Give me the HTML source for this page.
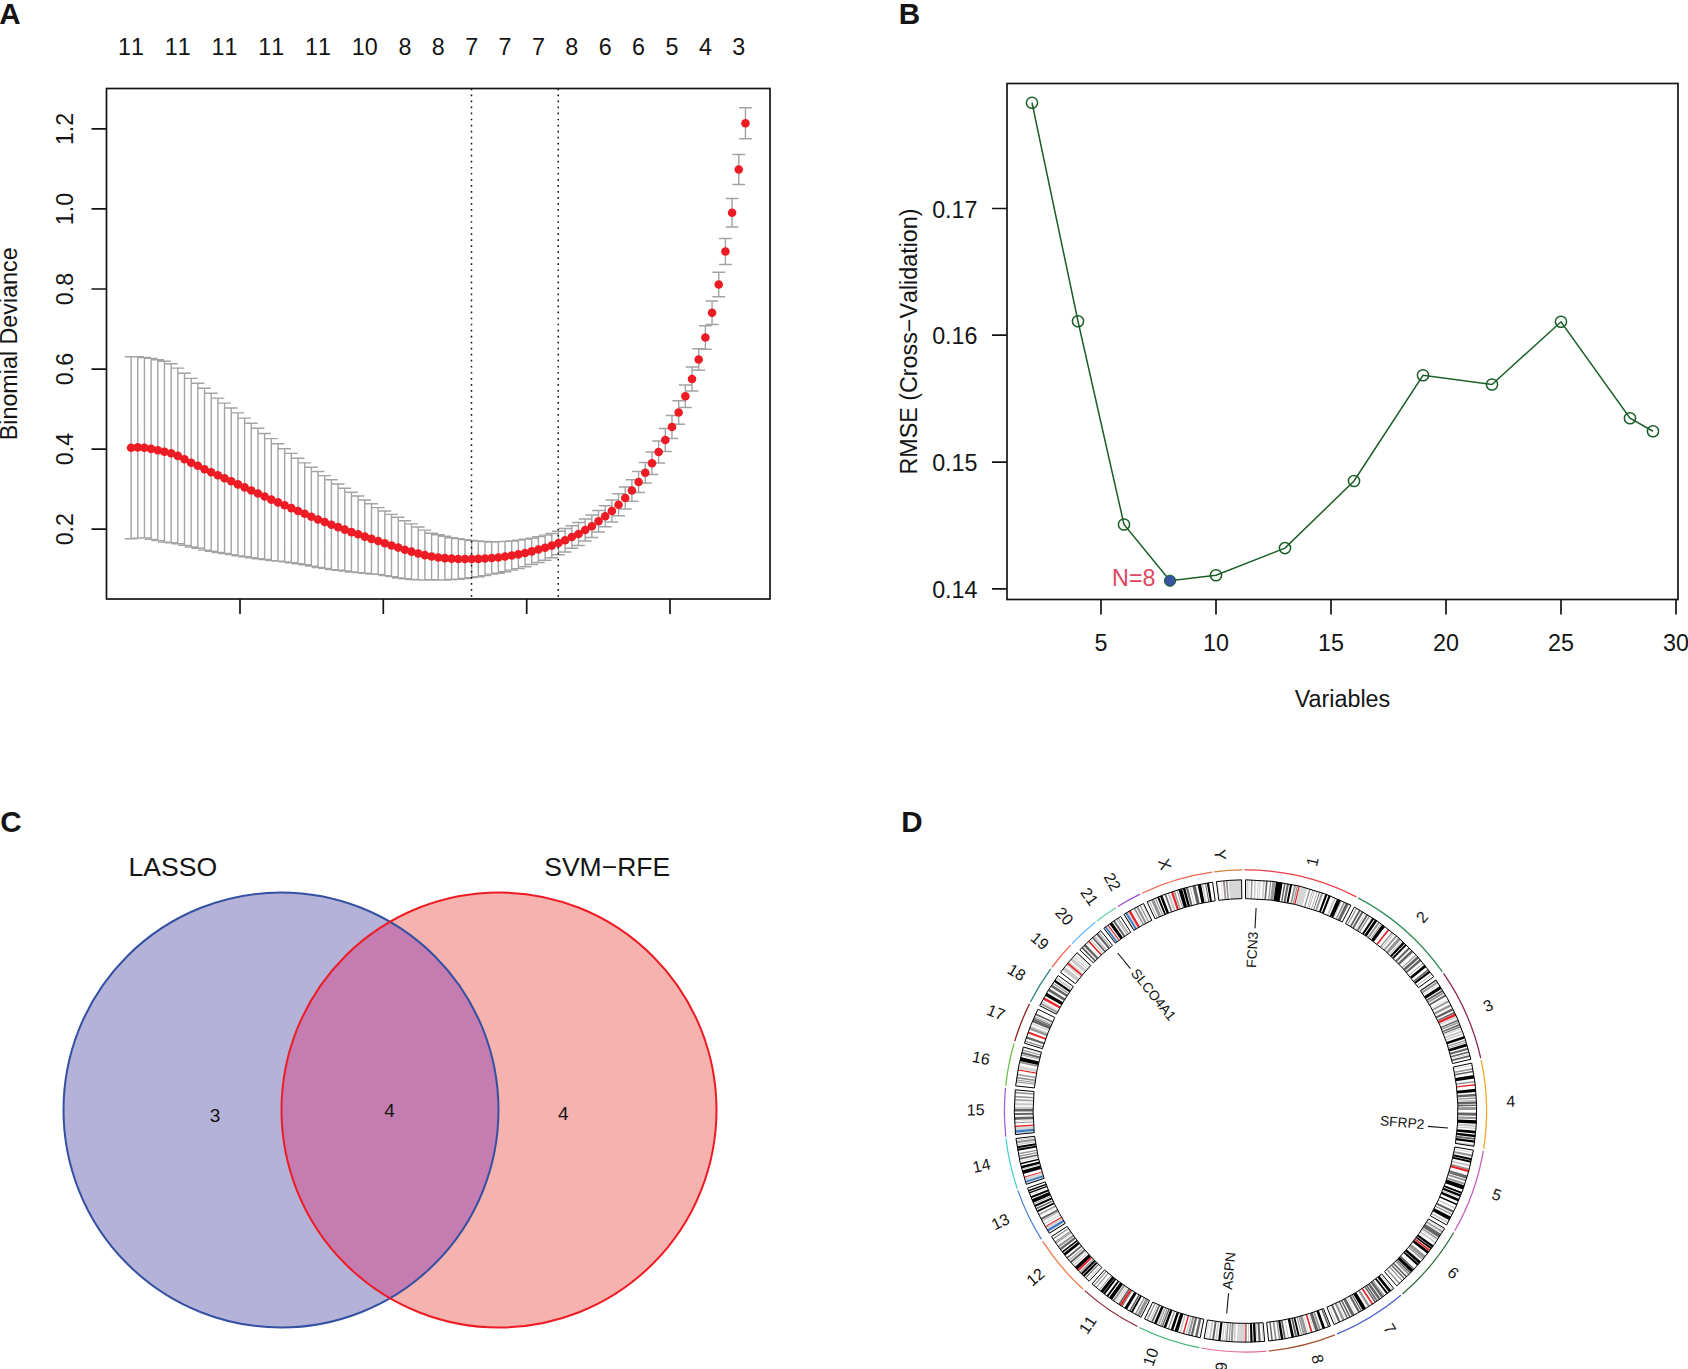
<!DOCTYPE html>
<html><head><meta charset="utf-8"><title>Figure</title>
<style>html,body{margin:0;padding:0;background:#fff;}svg{display:block;}text{font-family:'Liberation Sans', Arial, sans-serif;font-kerning:none;}</style>
</head><body>
<svg width="1688" height="1369" viewBox="0 0 1688 1369">
<rect width="1688" height="1369" fill="#fff"/>
<g id="panelA">
<path d="M131.07 356.7V538.7M124.67 356.7h12.8M124.67 538.7h12.8M137.75 356.7V538.1M131.35 356.7h12.8M131.35 538.1h12.8M144.43 357.5V537.9M138.03 357.5h12.8M138.03 537.9h12.8M151.1 358.4V539.4M144.7 358.4h12.8M144.7 539.4h12.8M157.78 359.8V540.6M151.38 359.8h12.8M151.38 540.6h12.8M164.46 361.3V542.1M158.06 361.3h12.8M158.06 542.1h12.8M171.14 363.7V542.7M164.74 363.7h12.8M164.74 542.7h12.8M177.82 368.1V543.7M171.42 368.1h12.8M171.42 543.7h12.8M184.49 373.2V545.4M178.09 373.2h12.8M178.09 545.4h12.8M191.17 378.4V547M184.77 378.4h12.8M184.77 547h12.8M197.85 383.3V548.3M191.45 383.3h12.8M191.45 548.3h12.8M204.53 388.3V550.1M198.13 388.3h12.8M198.13 550.1h12.8M211.21 393.2V551.2M204.81 393.2h12.8M204.81 551.2h12.8M217.88 398.1V552.5M211.48 398.1h12.8M211.48 552.5h12.8M224.56 403.1V553.5M218.16 403.1h12.8M218.16 553.5h12.8M231.24 408V554.6M224.84 408h12.8M224.84 554.6h12.8M237.92 412.9V555.9M231.52 412.9h12.8M231.52 555.9h12.8M244.6 418.1V556.7M238.2 418.1h12.8M238.2 556.7h12.8M251.27 423.2V557.8M244.87 423.2h12.8M244.87 557.8h12.8M257.95 428.3V558.7M251.55 428.3h12.8M251.55 558.7h12.8M264.63 433.5V559.5M258.23 433.5h12.8M258.23 559.5h12.8M271.31 438.6V560.6M264.91 438.6h12.8M264.91 560.6h12.8M277.99 443.7V561.1M271.59 443.7h12.8M271.59 561.1h12.8M284.66 448.7V561.9M278.26 448.7h12.8M278.26 561.9h12.8M291.34 453.4V562.8M284.94 453.4h12.8M284.94 562.8h12.8M298.02 458.2V563.8M291.62 458.2h12.8M291.62 563.8h12.8M304.7 462.9V564.7M298.3 462.9h12.8M298.3 564.7h12.8M311.38 467.3V566.1M304.98 467.3h12.8M304.98 566.1h12.8M318.05 471.5V567.5M311.65 471.5h12.8M311.65 567.5h12.8M324.73 475.6V568.4M318.33 475.6h12.8M318.33 568.4h12.8M331.41 479.8V569.6M325.01 479.8h12.8M325.01 569.6h12.8M338.09 484V570.2M331.69 484h12.8M331.69 570.2h12.8M344.77 488.2V571M338.37 488.2h12.8M338.37 571h12.8M351.44 492.2V572M345.04 492.2h12.8M345.04 572h12.8M358.12 496V572.6M351.72 496h12.8M351.72 572.6h12.8M364.8 500V573.2M358.4 500h12.8M358.4 573.2h12.8M371.48 503.8V574M365.08 503.8h12.8M365.08 574h12.8M378.16 507.6V574.4M371.76 507.6h12.8M371.76 574.4h12.8M384.83 511V575.6M378.43 511h12.8M378.43 575.6h12.8M391.51 514.4V576.58M385.11 514.4h12.8M385.11 576.58h12.8M398.19 517.2V577.97M391.79 517.2h12.8M391.79 577.97h12.8M404.87 520.75V578.8M398.47 520.75h12.8M398.47 578.8h12.8M411.55 523.88V579.46M405.15 523.88h12.8M405.15 579.46h12.8M418.22 527V579.92M411.82 527h12.8M411.82 579.92h12.8M424.9 530.12V580.17M418.5 530.12h12.8M418.5 580.17h12.8M431.58 533.25V579.65M425.18 533.25h12.8M425.18 579.65h12.8M438.26 534.75V580.15M431.86 534.75h12.8M431.86 580.15h12.8M444.94 536.25V580.05M438.54 536.25h12.8M438.54 580.05h12.8M451.61 537.75V579.55M445.21 537.75h12.8M445.21 579.55h12.8M458.29 538.67V579.23M451.89 538.67h12.8M451.89 579.23h12.8M464.97 539.58V578.52M458.57 539.58h12.8M458.57 578.52h12.8M471.65 540.5V577.6M465.25 540.5h12.8M465.25 577.6h12.8M478.33 541V576.7M471.93 541h12.8M471.93 576.7h12.8M485 541.5V575.6M478.6 541.5h12.8M478.6 575.6h12.8M491.68 542V574.1M485.28 542h12.8M485.28 574.1h12.8M498.36 541.67V573.23M491.96 541.67h12.8M491.96 573.23h12.8M505.04 541.33V571.77M498.64 541.33h12.8M498.64 571.77h12.8M511.72 541V570.1M505.32 541h12.8M505.32 570.1h12.8M518.39 540.08V568.62M511.99 540.08h12.8M511.99 568.62h12.8M525.07 539.17V566.75M518.67 539.17h12.8M518.67 566.75h12.8M531.75 538.25V564.48M525.35 538.25h12.8M525.35 564.48h12.8M538.43 536.67V562.48M532.03 536.67h12.8M532.03 562.48h12.8M545.11 535.08V560.28M538.71 535.08h12.8M538.71 560.28h12.8M551.78 533.5V557.68M545.38 533.5h12.8M545.38 557.68h12.8M558.46 531.25V554.75M552.06 531.25h12.8M552.06 554.75h12.8M565.14 528.5V552M558.74 528.5h12.8M558.74 552h12.8M571.82 525.75V548.25M565.42 525.75h12.8M565.42 548.25h12.8M578.5 522.5V545.5M572.1 522.5h12.8M572.1 545.5h12.8M585.17 519V541M578.77 519h12.8M578.77 541h12.8M591.85 515V537.5M585.45 515h12.8M585.45 537.5h12.8M598.53 510.5V532M592.13 510.5h12.8M592.13 532h12.8M605.21 505.75V526.75M598.81 505.75h12.8M598.81 526.75h12.8M611.89 500V522M605.49 500h12.8M605.49 522h12.8M618.56 493.75V515.75M612.16 493.75h12.8M612.16 515.75h12.8M625.24 487V509M618.84 487h12.8M618.84 509h12.8M631.92 479.75V501.25M625.52 479.75h12.8M625.52 501.25h12.8M638.6 471.5V492.5M632.2 471.5h12.8M632.2 492.5h12.8M645.28 462.5V483M638.88 462.5h12.8M638.88 483h12.8M651.95 452V474.5M645.55 452h12.8M645.55 474.5h12.8M658.63 441V463M652.23 441h12.8M652.23 463h12.8M665.31 428.5V451.5M658.91 428.5h12.8M658.91 451.5h12.8M671.99 415.5V438.5M665.59 415.5h12.8M665.59 438.5h12.8M678.67 400.75V424.25M672.27 400.75h12.8M672.27 424.25h12.8M685.34 385V407.5M678.94 385h12.8M678.94 407.5h12.8M692.02 367V391M685.62 367h12.8M685.62 391h12.8M698.7 348.75V370.25M692.3 348.75h12.8M692.3 370.25h12.8M705.38 325.75V349.25M698.98 325.75h12.8M698.98 349.25h12.8M712.06 301V324.5M705.66 301h12.8M705.66 324.5h12.8M718.73 272.25V296.75M712.33 272.25h12.8M712.33 296.75h12.8M725.41 238.5V264.5M719.01 238.5h12.8M719.01 264.5h12.8M732.09 198.5V227M725.69 198.5h12.8M725.69 227h12.8M738.77 154.5V184.5M732.37 154.5h12.8M732.37 184.5h12.8M745.45 107.75V138.75M739.05 107.75h12.8M739.05 138.75h12.8" stroke="#a3a3a3" stroke-width="1.4" fill="none"/>
<line x1="471.5" y1="88.5" x2="471.5" y2="599.0" stroke="#141414" stroke-width="1.5" stroke-dasharray="1.7 4.33"/>
<line x1="558.25" y1="88.5" x2="558.25" y2="599.0" stroke="#141414" stroke-width="1.5" stroke-dasharray="1.7 4.33"/>
<circle cx="131.07" cy="447.7" r="4.3" fill="#ed1c24"/>
<circle cx="137.75" cy="447.4" r="4.3" fill="#ed1c24"/>
<circle cx="144.43" cy="447.7" r="4.3" fill="#ed1c24"/>
<circle cx="151.1" cy="448.9" r="4.3" fill="#ed1c24"/>
<circle cx="157.78" cy="450.2" r="4.3" fill="#ed1c24"/>
<circle cx="164.46" cy="451.7" r="4.3" fill="#ed1c24"/>
<circle cx="171.14" cy="453.2" r="4.3" fill="#ed1c24"/>
<circle cx="177.82" cy="455.9" r="4.3" fill="#ed1c24"/>
<circle cx="184.49" cy="459.3" r="4.3" fill="#ed1c24"/>
<circle cx="191.17" cy="462.7" r="4.3" fill="#ed1c24"/>
<circle cx="197.85" cy="465.8" r="4.3" fill="#ed1c24"/>
<circle cx="204.53" cy="469.2" r="4.3" fill="#ed1c24"/>
<circle cx="211.21" cy="472.2" r="4.3" fill="#ed1c24"/>
<circle cx="217.88" cy="475.3" r="4.3" fill="#ed1c24"/>
<circle cx="224.56" cy="478.3" r="4.3" fill="#ed1c24"/>
<circle cx="231.24" cy="481.3" r="4.3" fill="#ed1c24"/>
<circle cx="237.92" cy="484.4" r="4.3" fill="#ed1c24"/>
<circle cx="244.6" cy="487.4" r="4.3" fill="#ed1c24"/>
<circle cx="251.27" cy="490.5" r="4.3" fill="#ed1c24"/>
<circle cx="257.95" cy="493.5" r="4.3" fill="#ed1c24"/>
<circle cx="264.63" cy="496.5" r="4.3" fill="#ed1c24"/>
<circle cx="271.31" cy="499.6" r="4.3" fill="#ed1c24"/>
<circle cx="277.99" cy="502.4" r="4.3" fill="#ed1c24"/>
<circle cx="284.66" cy="505.3" r="4.3" fill="#ed1c24"/>
<circle cx="291.34" cy="508.1" r="4.3" fill="#ed1c24"/>
<circle cx="298.02" cy="511" r="4.3" fill="#ed1c24"/>
<circle cx="304.7" cy="513.8" r="4.3" fill="#ed1c24"/>
<circle cx="311.38" cy="516.7" r="4.3" fill="#ed1c24"/>
<circle cx="318.05" cy="519.5" r="4.3" fill="#ed1c24"/>
<circle cx="324.73" cy="522" r="4.3" fill="#ed1c24"/>
<circle cx="331.41" cy="524.7" r="4.3" fill="#ed1c24"/>
<circle cx="338.09" cy="527.1" r="4.3" fill="#ed1c24"/>
<circle cx="344.77" cy="529.6" r="4.3" fill="#ed1c24"/>
<circle cx="351.44" cy="532.1" r="4.3" fill="#ed1c24"/>
<circle cx="358.12" cy="534.3" r="4.3" fill="#ed1c24"/>
<circle cx="364.8" cy="536.6" r="4.3" fill="#ed1c24"/>
<circle cx="371.48" cy="538.9" r="4.3" fill="#ed1c24"/>
<circle cx="378.16" cy="541" r="4.3" fill="#ed1c24"/>
<circle cx="384.83" cy="543.3" r="4.3" fill="#ed1c24"/>
<circle cx="391.51" cy="545.49" r="4.3" fill="#ed1c24"/>
<circle cx="398.19" cy="547.58" r="4.3" fill="#ed1c24"/>
<circle cx="404.87" cy="549.77" r="4.3" fill="#ed1c24"/>
<circle cx="411.55" cy="551.67" r="4.3" fill="#ed1c24"/>
<circle cx="418.22" cy="553.46" r="4.3" fill="#ed1c24"/>
<circle cx="424.9" cy="555.15" r="4.3" fill="#ed1c24"/>
<circle cx="431.58" cy="556.45" r="4.3" fill="#ed1c24"/>
<circle cx="438.26" cy="557.45" r="4.3" fill="#ed1c24"/>
<circle cx="444.94" cy="558.15" r="4.3" fill="#ed1c24"/>
<circle cx="451.61" cy="558.65" r="4.3" fill="#ed1c24"/>
<circle cx="458.29" cy="558.95" r="4.3" fill="#ed1c24"/>
<circle cx="464.97" cy="559.05" r="4.3" fill="#ed1c24"/>
<circle cx="471.65" cy="559.05" r="4.3" fill="#ed1c24"/>
<circle cx="478.33" cy="558.85" r="4.3" fill="#ed1c24"/>
<circle cx="485" cy="558.55" r="4.3" fill="#ed1c24"/>
<circle cx="491.68" cy="558.05" r="4.3" fill="#ed1c24"/>
<circle cx="498.36" cy="557.45" r="4.3" fill="#ed1c24"/>
<circle cx="505.04" cy="556.55" r="4.3" fill="#ed1c24"/>
<circle cx="511.72" cy="555.55" r="4.3" fill="#ed1c24"/>
<circle cx="518.39" cy="554.35" r="4.3" fill="#ed1c24"/>
<circle cx="525.07" cy="552.96" r="4.3" fill="#ed1c24"/>
<circle cx="531.75" cy="551.37" r="4.3" fill="#ed1c24"/>
<circle cx="538.43" cy="549.57" r="4.3" fill="#ed1c24"/>
<circle cx="545.11" cy="547.68" r="4.3" fill="#ed1c24"/>
<circle cx="551.78" cy="545.59" r="4.3" fill="#ed1c24"/>
<circle cx="558.46" cy="543" r="4.3" fill="#ed1c24"/>
<circle cx="565.14" cy="540.25" r="4.3" fill="#ed1c24"/>
<circle cx="571.82" cy="537" r="4.3" fill="#ed1c24"/>
<circle cx="578.5" cy="534" r="4.3" fill="#ed1c24"/>
<circle cx="585.17" cy="530" r="4.3" fill="#ed1c24"/>
<circle cx="591.85" cy="526.25" r="4.3" fill="#ed1c24"/>
<circle cx="598.53" cy="521.25" r="4.3" fill="#ed1c24"/>
<circle cx="605.21" cy="516.25" r="4.3" fill="#ed1c24"/>
<circle cx="611.89" cy="511" r="4.3" fill="#ed1c24"/>
<circle cx="618.56" cy="504.75" r="4.3" fill="#ed1c24"/>
<circle cx="625.24" cy="498" r="4.3" fill="#ed1c24"/>
<circle cx="631.92" cy="490.5" r="4.3" fill="#ed1c24"/>
<circle cx="638.6" cy="482" r="4.3" fill="#ed1c24"/>
<circle cx="645.28" cy="472.75" r="4.3" fill="#ed1c24"/>
<circle cx="651.95" cy="463.25" r="4.3" fill="#ed1c24"/>
<circle cx="658.63" cy="452" r="4.3" fill="#ed1c24"/>
<circle cx="665.31" cy="440" r="4.3" fill="#ed1c24"/>
<circle cx="671.99" cy="427" r="4.3" fill="#ed1c24"/>
<circle cx="678.67" cy="412.5" r="4.3" fill="#ed1c24"/>
<circle cx="685.34" cy="396.25" r="4.3" fill="#ed1c24"/>
<circle cx="692.02" cy="379" r="4.3" fill="#ed1c24"/>
<circle cx="698.7" cy="359.5" r="4.3" fill="#ed1c24"/>
<circle cx="705.38" cy="337.5" r="4.3" fill="#ed1c24"/>
<circle cx="712.06" cy="312.75" r="4.3" fill="#ed1c24"/>
<circle cx="718.73" cy="284.5" r="4.3" fill="#ed1c24"/>
<circle cx="725.41" cy="251.5" r="4.3" fill="#ed1c24"/>
<circle cx="732.09" cy="212.75" r="4.3" fill="#ed1c24"/>
<circle cx="738.77" cy="169.5" r="4.3" fill="#ed1c24"/>
<circle cx="745.45" cy="123.25" r="4.3" fill="#ed1c24"/>
<rect x="106.5" y="88.5" width="663.5" height="510.5" fill="none" stroke="#141414" stroke-width="1.7"/>
<text transform="translate(73.0 128.9) rotate(-90)" text-anchor="middle" font-size="23.3" fill="#141414">1.2</text>
<text transform="translate(73.0 208.95) rotate(-90)" text-anchor="middle" font-size="23.3" fill="#141414">1.0</text>
<text transform="translate(73.0 289) rotate(-90)" text-anchor="middle" font-size="23.3" fill="#141414">0.8</text>
<text transform="translate(73.0 369.05) rotate(-90)" text-anchor="middle" font-size="23.3" fill="#141414">0.6</text>
<text transform="translate(73.0 449.1) rotate(-90)" text-anchor="middle" font-size="23.3" fill="#141414">0.4</text>
<text transform="translate(73.0 529.15) rotate(-90)" text-anchor="middle" font-size="23.3" fill="#141414">0.2</text>
<path d="M106.5 128.9h-15M106.5 208.95h-15M106.5 289h-15M106.5 369.05h-15M106.5 449.1h-15M106.5 529.15h-15M240 599.0v15M383.3 599.0v15M526.7 599.0v15M670 599.0v15" stroke="#141414" stroke-width="1.7" fill="none"/>
<text transform="translate(17.4 343.8) rotate(-90)" text-anchor="middle" font-size="23.3" fill="#141414">Binomial Deviance</text>
<text x="131.07" y="54.6" text-anchor="middle" font-size="23.3" fill="#141414">11</text>
<text x="177.82" y="54.6" text-anchor="middle" font-size="23.3" fill="#141414">11</text>
<text x="224.56" y="54.6" text-anchor="middle" font-size="23.3" fill="#141414">11</text>
<text x="271.31" y="54.6" text-anchor="middle" font-size="23.3" fill="#141414">11</text>
<text x="318.05" y="54.6" text-anchor="middle" font-size="23.3" fill="#141414">11</text>
<text x="364.8" y="54.6" text-anchor="middle" font-size="23.3" fill="#141414">10</text>
<text x="404.87" y="54.6" text-anchor="middle" font-size="23.3" fill="#141414">8</text>
<text x="438.26" y="54.6" text-anchor="middle" font-size="23.3" fill="#141414">8</text>
<text x="471.65" y="54.6" text-anchor="middle" font-size="23.3" fill="#141414">7</text>
<text x="505.04" y="54.6" text-anchor="middle" font-size="23.3" fill="#141414">7</text>
<text x="538.43" y="54.6" text-anchor="middle" font-size="23.3" fill="#141414">7</text>
<text x="571.82" y="54.6" text-anchor="middle" font-size="23.3" fill="#141414">8</text>
<text x="605.21" y="54.6" text-anchor="middle" font-size="23.3" fill="#141414">6</text>
<text x="638.6" y="54.6" text-anchor="middle" font-size="23.3" fill="#141414">6</text>
<text x="671.99" y="54.6" text-anchor="middle" font-size="23.3" fill="#141414">5</text>
<text x="705.38" y="54.6" text-anchor="middle" font-size="23.3" fill="#141414">4</text>
<text x="738.77" y="54.6" text-anchor="middle" font-size="23.3" fill="#141414">3</text>
<text x="-0.8" y="24.3" font-size="29.6" font-weight="bold" fill="#141414">A</text>
</g>
<g id="panelB">
<polyline points="1032,102.75 1078,321.25 1124,524.5 1170,580.75 1216,575.25 1285,548.1 1354,481 1423,375.25 1492,384.5 1561,321.75 1630,418.25 1653,431.25" fill="none" stroke="#1a5e28" stroke-width="1.5"/>
<circle cx="1032" cy="102.75" r="5.6" fill="none" stroke="#1a5e28" stroke-width="1.5"/>
<circle cx="1078" cy="321.25" r="5.6" fill="none" stroke="#1a5e28" stroke-width="1.5"/>
<circle cx="1124" cy="524.5" r="5.6" fill="none" stroke="#1a5e28" stroke-width="1.5"/>
<circle cx="1170" cy="580.75" r="5.6" fill="#3953a4" stroke="#1a5e28" stroke-width="1"/>
<circle cx="1216" cy="575.25" r="5.6" fill="none" stroke="#1a5e28" stroke-width="1.5"/>
<circle cx="1285" cy="548.1" r="5.6" fill="none" stroke="#1a5e28" stroke-width="1.5"/>
<circle cx="1354" cy="481" r="5.6" fill="none" stroke="#1a5e28" stroke-width="1.5"/>
<circle cx="1423" cy="375.25" r="5.6" fill="none" stroke="#1a5e28" stroke-width="1.5"/>
<circle cx="1492" cy="384.5" r="5.6" fill="none" stroke="#1a5e28" stroke-width="1.5"/>
<circle cx="1561" cy="321.75" r="5.6" fill="none" stroke="#1a5e28" stroke-width="1.5"/>
<circle cx="1630" cy="418.25" r="5.6" fill="none" stroke="#1a5e28" stroke-width="1.5"/>
<circle cx="1653" cy="431.25" r="5.6" fill="none" stroke="#1a5e28" stroke-width="1.5"/>
<text x="1155.5" y="586" text-anchor="end" font-size="23.3" fill="#de4562">N=8</text>
<rect x="1007.0" y="83.5" width="671.0" height="516.0" fill="none" stroke="#141414" stroke-width="1.7"/>
<text x="977.5" y="217.5" text-anchor="end" font-size="23.3" fill="#141414">0.17</text>
<text x="977.5" y="344.2" text-anchor="end" font-size="23.3" fill="#141414">0.16</text>
<text x="977.5" y="471.2" text-anchor="end" font-size="23.3" fill="#141414">0.15</text>
<text x="977.5" y="597.8" text-anchor="end" font-size="23.3" fill="#141414">0.14</text>
<text x="1101" y="650.8" text-anchor="middle" font-size="23.3" fill="#141414">5</text>
<text x="1216" y="650.8" text-anchor="middle" font-size="23.3" fill="#141414">10</text>
<text x="1331" y="650.8" text-anchor="middle" font-size="23.3" fill="#141414">15</text>
<text x="1446" y="650.8" text-anchor="middle" font-size="23.3" fill="#141414">20</text>
<text x="1561" y="650.8" text-anchor="middle" font-size="23.3" fill="#141414">25</text>
<text x="1676" y="650.8" text-anchor="middle" font-size="23.3" fill="#141414">30</text>
<path d="M1007.0 208.5h-15M1007.0 335.2h-15M1007.0 462.2h-15M1007.0 588.8h-15M1101 599.5v15M1216 599.5v15M1331 599.5v15M1446 599.5v15M1561 599.5v15M1676 599.5v15" stroke="#141414" stroke-width="1.7" fill="none"/>
<text x="1342.5" y="706.7" text-anchor="middle" font-size="23.3" style="font-kerning:normal" fill="#141414">Variables</text>
<text transform="translate(917.2 341.5) rotate(-90)" text-anchor="middle" font-size="23.3" fill="#141414">RMSE (Cross−Validation)</text>
<text x="898.8" y="24.3" font-size="29.6" font-weight="bold" fill="#141414">B</text>
</g>
<g id="panelC">
<defs><clipPath id="clipBlue"><circle cx="281" cy="1110" r="217.5"/></clipPath></defs>
<circle cx="281" cy="1110" r="217.5" fill="#b5b2d9"/>
<circle cx="499" cy="1110" r="217.5" fill="#f5b2af"/>
<circle cx="499" cy="1110" r="217.5" fill="#c57db1" clip-path="url(#clipBlue)"/>
<circle cx="281" cy="1110" r="217.5" fill="none" stroke="#3450a2" stroke-width="2"/>
<circle cx="499" cy="1110" r="217.5" fill="none" stroke="#ed1c24" stroke-width="2"/>
<text x="172.9" y="876.2" text-anchor="middle" font-size="26.6" fill="#141414">LASSO</text>
<text x="607.2" y="876.2" text-anchor="middle" font-size="26.5" fill="#141414">SVM−RFE</text>
<text x="215.1" y="1122.3" text-anchor="middle" font-size="19" fill="#141414">3</text>
<text x="389.6" y="1117.3" text-anchor="middle" font-size="19" fill="#141414">4</text>
<text x="563.4" y="1119.8" text-anchor="middle" font-size="19" fill="#141414">4</text>
<text x="0.2" y="832.2" font-size="29.6" font-weight="bold" fill="#141414">C</text>
</g>
<g id="panelD">
<path d="M1245.5 879.8A231.2 231.2 0 0 1 1350.91 905.23L1342.34 921.96A212.4 212.4 0 0 0 1245.5 898.6Z" fill="#fff"/>
<path d="M1246.51 879.8A231.2 231.2 0 0 1 1247.87 879.81L1247.68 898.61A212.4 212.4 0 0 0 1246.43 898.6ZM1248.66 879.82A231.2 231.2 0 0 1 1249.54 879.84L1249.21 898.63A212.4 212.4 0 0 0 1248.4 898.62ZM1254.46 879.97A231.2 231.2 0 0 1 1255.99 880.04L1255.14 898.82A212.4 212.4 0 0 0 1253.73 898.76ZM1257.79 880.13A231.2 231.2 0 0 1 1258.75 880.18L1257.68 898.95A212.4 212.4 0 0 0 1256.79 898.9ZM1259.72 880.24A231.2 231.2 0 0 1 1260.68 880.3L1259.45 899.06A212.4 212.4 0 0 0 1258.56 899ZM1263.09 880.47A231.2 231.2 0 0 1 1264.84 880.61L1263.27 899.34A212.4 212.4 0 0 0 1261.66 899.22ZM1334.16 897.47A231.2 231.2 0 0 1 1335.9 898.2L1328.55 915.51A212.4 212.4 0 0 0 1326.95 914.84ZM1341.16 900.52A231.2 231.2 0 0 1 1342.12 900.96L1334.26 918.04A212.4 212.4 0 0 0 1333.38 917.63Z" fill="#c8c8c8"/>
<path d="M1251.08 879.87A231.2 231.2 0 0 1 1252.61 879.91L1252.03 898.7A212.4 212.4 0 0 0 1250.62 898.66ZM1270.09 881.11A231.2 231.2 0 0 1 1271.35 881.25L1269.25 899.93A212.4 212.4 0 0 0 1268.09 899.8ZM1272.36 881.37A231.2 231.2 0 0 1 1275.67 881.78L1273.22 900.42A212.4 212.4 0 0 0 1270.17 900.04ZM1294.23 884.99A231.2 231.2 0 0 1 1296.07 885.4L1291.96 903.74A212.4 212.4 0 0 0 1290.26 903.37ZM1296.8 885.56A231.2 231.2 0 0 1 1298 885.84L1293.73 904.15A212.4 212.4 0 0 0 1292.63 903.89ZM1309.22 888.75A231.2 231.2 0 0 1 1310.61 889.16L1305.31 907.2A212.4 212.4 0 0 0 1304.03 906.82ZM1312.59 889.75A231.2 231.2 0 0 1 1313.22 889.94L1307.71 907.91A212.4 212.4 0 0 0 1307.13 907.74ZM1314.31 890.28A231.2 231.2 0 0 1 1314.89 890.46L1309.25 908.39A212.4 212.4 0 0 0 1308.71 908.22ZM1316.98 891.13A231.2 231.2 0 0 1 1317.69 891.36L1311.82 909.22A212.4 212.4 0 0 0 1311.17 909.01ZM1321.35 892.6A231.2 231.2 0 0 1 1323.14 893.22L1316.82 910.93A212.4 212.4 0 0 0 1315.19 910.36ZM1343.59 901.64A231.2 231.2 0 0 1 1345.18 902.39L1337.08 919.36A212.4 212.4 0 0 0 1335.62 918.67Z" fill="#969696"/>
<path d="M1266.02 880.71A231.2 231.2 0 0 1 1267.73 880.87L1265.92 899.58A212.4 212.4 0 0 0 1264.35 899.44ZM1284.14 883.05A231.2 231.2 0 0 1 1285.69 883.32L1282.43 901.83A212.4 212.4 0 0 0 1280.99 901.59ZM1286.86 883.53A231.2 231.2 0 0 1 1289.02 883.93L1285.48 902.4A212.4 212.4 0 0 0 1283.5 902.03ZM1319.24 891.87A231.2 231.2 0 0 1 1320.07 892.15L1314 909.95A212.4 212.4 0 0 0 1313.24 909.69ZM1345.93 902.75A231.2 231.2 0 0 1 1348.73 904.13L1340.34 920.95A212.4 212.4 0 0 0 1337.77 919.69Z" fill="#646464"/>
<path d="M1276.02 881.82A231.2 231.2 0 0 1 1282.62 882.8L1279.6 901.36A212.4 212.4 0 0 0 1273.54 900.46ZM1290.1 884.14A231.2 231.2 0 0 1 1292.25 884.58L1288.45 902.99A212.4 212.4 0 0 0 1286.47 902.59ZM1325.41 894.05A231.2 231.2 0 0 1 1327.46 894.82L1320.8 912.39A212.4 212.4 0 0 0 1318.91 911.69ZM1328.69 895.29A231.2 231.2 0 0 1 1330.7 896.07L1323.77 913.55A212.4 212.4 0 0 0 1321.93 912.83ZM1337.11 898.72A231.2 231.2 0 0 1 1340.96 900.43L1333.2 917.55A212.4 212.4 0 0 0 1329.66 915.98Z" fill="#000000"/>
<path d="M1298.47 885.95A231.2 231.2 0 0 1 1299.19 886.12L1294.83 904.41A212.4 212.4 0 0 0 1294.16 904.25ZM1299.19 886.12A231.2 231.2 0 0 1 1299.92 886.3L1295.49 904.57A212.4 212.4 0 0 0 1294.83 904.41Z" fill="#e8262a"/>
<path d="M1299.92 886.3A231.2 231.2 0 0 1 1307.36 888.23L1302.33 906.34A212.4 212.4 0 0 0 1295.49 904.57Z" fill="#d6d6d6"/>
<path d="M1245.5 879.8A231.2 231.2 0 0 1 1350.91 905.23L1342.34 921.96A212.4 212.4 0 0 0 1245.5 898.6Z" fill="none" stroke="#000" stroke-width="1" stroke-linejoin="miter"/>
<path d="M1244.45 869.9A241.1 241.1 0 0 1 1356.36 896.9" fill="none" stroke="#ee3b46" stroke-width="1.25"/>
<text transform="translate(1313.88 866.51) rotate(-76.44)" y="3.0" text-anchor="start" font-size="16" fill="#141414">1</text>
<path d="M1354.41 907.06A231.2 231.2 0 0 1 1433.7 976.71L1418.4 987.63A212.4 212.4 0 0 0 1345.56 923.64Z" fill="#fff"/>
<path d="M1356.11 907.98A231.2 231.2 0 0 1 1357.15 908.54L1348.07 925.01A212.4 212.4 0 0 0 1347.12 924.48ZM1369.02 915.56A231.2 231.2 0 0 1 1370.2 916.31L1360.06 932.14A212.4 212.4 0 0 0 1358.97 931.45ZM1378.31 921.75A231.2 231.2 0 0 1 1379.91 922.89L1368.98 938.18A212.4 212.4 0 0 0 1367.51 937.14ZM1380.95 923.63A231.2 231.2 0 0 1 1381.65 924.14L1370.58 939.34A212.4 212.4 0 0 0 1369.93 938.86ZM1391.77 931.95A231.2 231.2 0 0 1 1392.89 932.87L1380.9 947.36A212.4 212.4 0 0 0 1379.88 946.51ZM1395.7 935.24A231.2 231.2 0 0 1 1397.16 936.5L1384.83 950.69A212.4 212.4 0 0 0 1383.49 949.53ZM1398.35 937.53A231.2 231.2 0 0 1 1400.8 939.72L1388.17 953.65A212.4 212.4 0 0 0 1385.92 951.64ZM1415.73 954.56A231.2 231.2 0 0 1 1416.5 955.4L1402.6 968.05A212.4 212.4 0 0 0 1401.89 967.28ZM1423.03 962.89A231.2 231.2 0 0 1 1423.48 963.43L1409 975.43A212.4 212.4 0 0 0 1408.59 974.93ZM1431.75 974.02A231.2 231.2 0 0 1 1432.19 974.62L1417.01 985.71A212.4 212.4 0 0 0 1416.61 985.16Z" fill="#969696"/>
<path d="M1359.1 909.63A231.2 231.2 0 0 1 1360.81 910.61L1351.43 926.9A212.4 212.4 0 0 0 1349.86 926.01ZM1361.76 911.15A231.2 231.2 0 0 1 1363.57 912.22L1353.97 928.38A212.4 212.4 0 0 0 1352.3 927.41ZM1366.6 914.05A231.2 231.2 0 0 1 1368.28 915.09L1358.29 931.02A212.4 212.4 0 0 0 1356.75 930.07ZM1408.73 947.26A231.2 231.2 0 0 1 1410.24 948.78L1396.84 961.97A212.4 212.4 0 0 0 1395.46 960.58ZM1411.43 950.01A231.2 231.2 0 0 1 1413.25 951.9L1399.61 964.84A212.4 212.4 0 0 0 1397.94 963.1ZM1417.21 956.18A231.2 231.2 0 0 1 1419.07 958.27L1404.96 970.69A212.4 212.4 0 0 0 1403.24 968.77ZM1419.79 959.09A231.2 231.2 0 0 1 1421.36 960.92L1407.06 973.12A212.4 212.4 0 0 0 1405.62 971.44ZM1428.03 969.09A231.2 231.2 0 0 1 1429.02 970.38L1414.09 981.81A212.4 212.4 0 0 0 1413.19 980.63Z" fill="#646464"/>
<path d="M1365.03 913.1A231.2 231.2 0 0 1 1365.82 913.57L1356.03 929.63A212.4 212.4 0 0 0 1355.31 929.19ZM1393.39 933.29A231.2 231.2 0 0 1 1394.3 934.05L1382.2 948.44A212.4 212.4 0 0 0 1381.37 947.74ZM1401.64 940.49A231.2 231.2 0 0 1 1402.48 941.26L1389.71 955.06A212.4 212.4 0 0 0 1388.94 954.35ZM1407.17 945.72A231.2 231.2 0 0 1 1407.36 945.91L1394.2 959.33A212.4 212.4 0 0 0 1394.02 959.16Z" fill="#c8c8c8"/>
<path d="M1372.4 917.74A231.2 231.2 0 0 1 1374.26 918.98L1363.79 934.59A212.4 212.4 0 0 0 1362.08 933.46ZM1375.03 919.49A231.2 231.2 0 0 1 1377.3 921.05L1366.58 936.49A212.4 212.4 0 0 0 1364.49 935.06ZM1382.18 924.53A231.2 231.2 0 0 1 1385.1 926.7L1373.75 941.69A212.4 212.4 0 0 0 1371.07 939.69ZM1403.02 941.77A231.2 231.2 0 0 1 1404.74 943.38L1391.8 957.01A212.4 212.4 0 0 0 1390.21 955.53ZM1405.35 943.96A231.2 231.2 0 0 1 1406.79 945.36L1393.68 958.83A212.4 212.4 0 0 0 1392.35 957.54ZM1424.62 964.81A231.2 231.2 0 0 1 1426.35 966.96L1411.64 978.67A212.4 212.4 0 0 0 1410.05 976.7ZM1429.26 970.69A231.2 231.2 0 0 1 1430.55 972.4L1415.5 983.67A212.4 212.4 0 0 0 1414.31 982.1Z" fill="#000000"/>
<path d="M1388.05 928.97A231.2 231.2 0 0 1 1388.77 929.54L1377.12 944.3A212.4 212.4 0 0 0 1376.46 943.77ZM1388.77 929.54A231.2 231.2 0 0 1 1389.49 930.11L1377.78 944.82A212.4 212.4 0 0 0 1377.12 944.3Z" fill="#e8262a"/>
<path d="M1354.41 907.06A231.2 231.2 0 0 1 1433.7 976.71L1418.4 987.63A212.4 212.4 0 0 0 1345.56 923.64Z" fill="none" stroke="#000" stroke-width="1" stroke-linejoin="miter"/>
<path d="M1358.15 897.83A241.1 241.1 0 0 1 1442.37 971.82" fill="none" stroke="#2e8b57" stroke-width="1.25"/>
<text transform="translate(1420.88 922.05) rotate(-48.7)" y="3.0" text-anchor="start" font-size="16" fill="#141414">2</text>
<path d="M1435.97 979.95A231.2 231.2 0 0 1 1470.84 1059.29L1452.52 1063.5A212.4 212.4 0 0 0 1420.48 990.61Z" fill="#fff"/>
<path d="M1435.97 979.95A231.2 231.2 0 0 1 1436.67 980.97L1421.12 991.54A212.4 212.4 0 0 0 1420.48 990.61ZM1436.97 981.41A231.2 231.2 0 0 1 1438.12 983.13L1422.46 993.52A212.4 212.4 0 0 0 1421.4 991.95ZM1443.62 991.83A231.2 231.2 0 0 1 1444.61 993.5L1428.42 1003.05A212.4 212.4 0 0 0 1427.51 1001.52ZM1446.29 996.39A231.2 231.2 0 0 1 1446.32 996.43L1429.99 1005.75A212.4 212.4 0 0 0 1429.97 1005.71ZM1448.5 1000.35A231.2 231.2 0 0 1 1449.38 1001.98L1432.8 1010.84A212.4 212.4 0 0 0 1432 1009.35ZM1450.43 1003.96A231.2 231.2 0 0 1 1451.66 1006.35L1434.9 1014.86A212.4 212.4 0 0 0 1433.77 1012.67ZM1458.7 1021.57A231.2 231.2 0 0 1 1459.28 1022.95L1441.89 1030.11A212.4 212.4 0 0 0 1441.37 1028.84ZM1465.47 1039.81A231.2 231.2 0 0 1 1465.86 1041.03L1447.94 1046.72A212.4 212.4 0 0 0 1447.58 1045.6ZM1466.12 1041.87A231.2 231.2 0 0 1 1466.38 1042.71L1448.42 1048.26A212.4 212.4 0 0 0 1448.18 1047.49Z" fill="#969696"/>
<path d="M1438.87 984.27A231.2 231.2 0 0 1 1439.23 984.82L1423.48 995.08A212.4 212.4 0 0 0 1423.15 994.57ZM1447.7 998.88A231.2 231.2 0 0 1 1448.06 999.54L1431.59 1008.6A212.4 212.4 0 0 0 1431.26 1008ZM1457.33 1018.37A231.2 231.2 0 0 1 1457.49 1018.74L1440.25 1026.24A212.4 212.4 0 0 0 1440.11 1025.9ZM1461.31 1028.07A231.2 231.2 0 0 1 1461.63 1028.89L1444.05 1035.56A212.4 212.4 0 0 0 1443.76 1034.81ZM1462.15 1030.29A231.2 231.2 0 0 1 1462.84 1032.15L1445.17 1038.56A212.4 212.4 0 0 0 1444.54 1036.85ZM1463.14 1032.98A231.2 231.2 0 0 1 1463.58 1034.22L1445.85 1040.46A212.4 212.4 0 0 0 1445.44 1039.32ZM1469.44 1053.51A231.2 231.2 0 0 1 1469.6 1054.15L1451.38 1058.77A212.4 212.4 0 0 0 1451.23 1058.18Z" fill="#c8c8c8"/>
<path d="M1439.97 985.96A231.2 231.2 0 0 1 1441.74 988.75L1425.78 998.69A212.4 212.4 0 0 0 1424.16 996.13ZM1464.17 1035.93A231.2 231.2 0 0 1 1465.03 1038.47L1447.18 1044.37A212.4 212.4 0 0 0 1446.39 1042.03ZM1466.6 1043.42A231.2 231.2 0 0 1 1467.47 1046.33L1449.42 1051.59A212.4 212.4 0 0 0 1448.62 1048.92Z" fill="#000000"/>
<path d="M1442.32 989.69A231.2 231.2 0 0 1 1443.35 991.38L1427.26 1001.11A212.4 212.4 0 0 0 1426.31 999.55ZM1445.26 994.6A231.2 231.2 0 0 1 1446.21 996.24L1429.89 1005.57A212.4 212.4 0 0 0 1429.02 1004.06ZM1452.53 1008.08A231.2 231.2 0 0 1 1453.62 1010.3L1436.69 1018.48A212.4 212.4 0 0 0 1435.7 1016.45ZM1454.32 1011.76A231.2 231.2 0 0 1 1454.98 1013.16L1437.94 1021.11A212.4 212.4 0 0 0 1437.34 1019.83ZM1457.82 1019.5A231.2 231.2 0 0 1 1458.41 1020.88L1441.1 1028.21A212.4 212.4 0 0 0 1440.56 1026.94ZM1459.64 1023.85A231.2 231.2 0 0 1 1460.27 1025.4L1442.81 1032.36A212.4 212.4 0 0 0 1442.23 1030.94ZM1460.55 1026.1A231.2 231.2 0 0 1 1461.01 1027.28L1443.49 1034.09A212.4 212.4 0 0 0 1443.06 1033ZM1467.87 1047.73A231.2 231.2 0 0 1 1468.44 1049.76L1450.31 1054.74A212.4 212.4 0 0 0 1449.79 1052.87ZM1468.82 1051.17A231.2 231.2 0 0 1 1469.24 1052.74L1451.05 1057.48A212.4 212.4 0 0 0 1450.66 1056.03ZM1469.81 1054.96A231.2 231.2 0 0 1 1470.27 1056.84L1451.99 1061.24A212.4 212.4 0 0 0 1451.57 1059.52Z" fill="#646464"/>
<path d="M1455.09 1013.4A231.2 231.2 0 0 1 1455.66 1014.64L1438.57 1022.47A212.4 212.4 0 0 0 1438.05 1021.33ZM1455.66 1014.64A231.2 231.2 0 0 1 1456.23 1015.88L1439.09 1023.61A212.4 212.4 0 0 0 1438.57 1022.47Z" fill="#e8262a"/>
<path d="M1456.23 1015.88A231.2 231.2 0 0 1 1457.03 1017.69L1439.83 1025.28A212.4 212.4 0 0 0 1439.09 1023.61Z" fill="#d6d6d6"/>
<path d="M1435.97 979.95A231.2 231.2 0 0 1 1470.84 1059.29L1452.52 1063.5A212.4 212.4 0 0 0 1420.48 990.61Z" fill="none" stroke="#000" stroke-width="1" stroke-linejoin="miter"/>
<path d="M1443.53 973.48A241.1 241.1 0 0 1 1480.73 1058.1" fill="none" stroke="#8b2252" stroke-width="1.25"/>
<text transform="translate(1485.14 1009.81) rotate(-23.73)" y="3.0" text-anchor="start" font-size="16" fill="#141414">3</text>
<path d="M1471.7 1063.16A231.2 231.2 0 0 1 1473.99 1146.29L1455.41 1143.42A212.4 212.4 0 0 0 1453.3 1067.05Z" fill="#fff"/>
<path d="M1472.09 1065.08A231.2 231.2 0 0 1 1472.22 1065.73L1453.79 1069.41A212.4 212.4 0 0 0 1453.67 1068.82ZM1476.42 1099.6A231.2 231.2 0 0 1 1476.48 1100.83L1457.69 1101.65A212.4 212.4 0 0 0 1457.64 1100.53ZM1476.29 1124.7A231.2 231.2 0 0 1 1476.14 1127.02L1457.39 1125.71A212.4 212.4 0 0 0 1457.53 1123.59ZM1476.09 1127.76A231.2 231.2 0 0 1 1476.01 1128.89L1457.26 1127.44A212.4 212.4 0 0 0 1457.34 1126.39ZM1474.25 1144.54A231.2 231.2 0 0 1 1473.99 1146.29L1455.41 1143.42A212.4 212.4 0 0 0 1455.65 1141.81Z" fill="#c8c8c8"/>
<path d="M1472.67 1068A231.2 231.2 0 0 1 1472.98 1069.68L1454.48 1073.04A212.4 212.4 0 0 0 1454.19 1071.5ZM1474.73 1080.92A231.2 231.2 0 0 1 1474.92 1082.39L1456.27 1084.72A212.4 212.4 0 0 0 1456.09 1083.36ZM1476.3 1097.33A231.2 231.2 0 0 1 1476.38 1098.86L1457.61 1099.85A212.4 212.4 0 0 0 1457.53 1098.44ZM1476.67 1107.04A231.2 231.2 0 0 1 1476.7 1109.92L1457.9 1110.01A212.4 212.4 0 0 0 1457.87 1107.36ZM1476.62 1116.97A231.2 231.2 0 0 1 1476.56 1119.15L1457.77 1118.49A212.4 212.4 0 0 0 1457.83 1116.48Z" fill="#969696"/>
<path d="M1473.18 1070.8A231.2 231.2 0 0 1 1473.44 1072.31L1454.9 1075.45A212.4 212.4 0 0 0 1454.66 1074.07ZM1476.05 1093.67A231.2 231.2 0 0 1 1476.23 1096.2L1457.46 1097.4A212.4 212.4 0 0 0 1457.3 1095.07ZM1476.5 1101.31A231.2 231.2 0 0 1 1476.59 1103.8L1457.8 1104.39A212.4 212.4 0 0 0 1457.71 1102.1ZM1476.61 1104.41A231.2 231.2 0 0 1 1476.65 1106.03L1457.85 1106.43A212.4 212.4 0 0 0 1457.81 1104.95ZM1476.69 1112.72A231.2 231.2 0 0 1 1476.65 1115.65L1457.86 1115.28A212.4 212.4 0 0 0 1457.89 1112.58ZM1475.12 1137.95A231.2 231.2 0 0 1 1474.89 1139.86L1456.24 1137.51A212.4 212.4 0 0 0 1456.45 1135.76Z" fill="#646464"/>
<path d="M1473.89 1075.07A231.2 231.2 0 0 1 1474.42 1078.58L1455.8 1081.21A212.4 212.4 0 0 0 1455.32 1077.99ZM1475.64 1088.87A231.2 231.2 0 0 1 1475.92 1091.96L1457.18 1093.51A212.4 212.4 0 0 0 1456.92 1090.67ZM1476.52 1120.16A231.2 231.2 0 0 1 1476.34 1123.83L1457.57 1122.78A212.4 212.4 0 0 0 1457.73 1119.41ZM1475.85 1130.85A231.2 231.2 0 0 1 1475.6 1133.55L1456.89 1131.72A212.4 212.4 0 0 0 1457.12 1129.24ZM1475.48 1134.73A231.2 231.2 0 0 1 1475.21 1137.17L1456.54 1135.04A212.4 212.4 0 0 0 1456.78 1132.8ZM1474.83 1140.38A231.2 231.2 0 0 1 1474.5 1142.85L1455.87 1140.26A212.4 212.4 0 0 0 1456.18 1137.99Z" fill="#000000"/>
<path d="M1475.11 1083.96A231.2 231.2 0 0 1 1475.2 1084.74L1456.53 1086.87A212.4 212.4 0 0 0 1456.44 1086.15ZM1475.2 1084.74A231.2 231.2 0 0 1 1475.29 1085.52L1456.61 1087.59A212.4 212.4 0 0 0 1456.53 1086.87Z" fill="#e8262a"/>
<path d="M1471.7 1063.16A231.2 231.2 0 0 1 1473.99 1146.29L1455.41 1143.42A212.4 212.4 0 0 0 1453.3 1067.05Z" fill="none" stroke="#000" stroke-width="1" stroke-linejoin="miter"/>
<path d="M1481.16 1060.08A241.1 241.1 0 0 1 1483.61 1148.84" fill="none" stroke="#f5a623" stroke-width="1.25"/>
<text transform="translate(1506.3 1104.06) rotate(-1.58)" y="3.0" text-anchor="start" font-size="16" fill="#141414">4</text>
<path d="M1473.35 1150.2A231.2 231.2 0 0 1 1446.65 1224.99L1430.29 1215.72A212.4 212.4 0 0 0 1454.83 1147.01Z" fill="#fff"/>
<path d="M1473.01 1152.15A231.2 231.2 0 0 1 1472.87 1152.93L1454.38 1149.52A212.4 212.4 0 0 0 1454.51 1148.81ZM1470.35 1164.8A231.2 231.2 0 0 1 1469.87 1166.77L1451.63 1162.24A212.4 212.4 0 0 0 1452.07 1160.42ZM1455.63 1207.43A231.2 231.2 0 0 1 1455.02 1208.75L1437.98 1200.8A212.4 212.4 0 0 0 1438.54 1199.59ZM1448.39 1221.86A231.2 231.2 0 0 1 1447.58 1223.33L1431.15 1214.19A212.4 212.4 0 0 0 1431.89 1212.84Z" fill="#c8c8c8"/>
<path d="M1472.58 1154.45A231.2 231.2 0 0 1 1472.14 1156.7L1453.71 1152.98A212.4 212.4 0 0 0 1454.12 1150.92ZM1469.43 1168.52A231.2 231.2 0 0 1 1469.03 1170.06L1450.85 1165.26A212.4 212.4 0 0 0 1451.22 1163.85ZM1466.31 1179.52A231.2 231.2 0 0 1 1465.66 1181.58L1447.76 1175.84A212.4 212.4 0 0 0 1448.36 1173.94ZM1465.17 1183.09A231.2 231.2 0 0 1 1464.55 1184.97L1446.74 1178.96A212.4 212.4 0 0 0 1447.31 1177.23ZM1459.94 1197.42A231.2 231.2 0 0 1 1459.68 1198.08L1442.26 1191A212.4 212.4 0 0 0 1442.5 1190.4ZM1452.49 1214A231.2 231.2 0 0 1 1451.9 1215.18L1435.11 1206.71A212.4 212.4 0 0 0 1435.66 1205.62Z" fill="#969696"/>
<path d="M1471.84 1158.17A231.2 231.2 0 0 1 1471.39 1160.28L1453.02 1156.28A212.4 212.4 0 0 0 1453.43 1154.33ZM1471.26 1160.84A231.2 231.2 0 0 1 1470.85 1162.69L1452.52 1158.49A212.4 212.4 0 0 0 1452.91 1156.79ZM1464.35 1185.56A231.2 231.2 0 0 1 1462.96 1189.51L1445.28 1183.13A212.4 212.4 0 0 0 1446.55 1179.49ZM1462.06 1191.95A231.2 231.2 0 0 1 1461.34 1193.85L1443.79 1187.11A212.4 212.4 0 0 0 1444.45 1185.37ZM1461.08 1194.55A231.2 231.2 0 0 1 1460.25 1196.65L1442.79 1189.68A212.4 212.4 0 0 0 1443.55 1187.76ZM1459.32 1198.93A231.2 231.2 0 0 1 1458.27 1201.46L1440.97 1194.1A212.4 212.4 0 0 0 1441.94 1191.78ZM1457.24 1203.85A231.2 231.2 0 0 1 1456.65 1205.18L1439.48 1197.52A212.4 212.4 0 0 0 1440.02 1196.3ZM1451.06 1216.83A231.2 231.2 0 0 1 1449.29 1220.19L1432.72 1211.31A212.4 212.4 0 0 0 1434.34 1208.22Z" fill="#000000"/>
<path d="M1469.03 1170.06A231.2 231.2 0 0 1 1468.72 1171.21L1450.57 1166.32A212.4 212.4 0 0 0 1450.85 1165.26ZM1468.72 1171.21A231.2 231.2 0 0 1 1468.42 1172.32L1450.29 1167.33A212.4 212.4 0 0 0 1450.57 1166.32Z" fill="#e8262a"/>
<path d="M1467.52 1175.5A231.2 231.2 0 0 1 1467.02 1177.2L1449.01 1171.81A212.4 212.4 0 0 0 1449.47 1170.26ZM1466.98 1177.32A231.2 231.2 0 0 1 1466.54 1178.8L1448.56 1173.29A212.4 212.4 0 0 0 1448.97 1171.93ZM1454.08 1210.75A231.2 231.2 0 0 1 1453.06 1212.85L1436.18 1204.57A212.4 212.4 0 0 0 1437.12 1202.63Z" fill="#646464"/>
<path d="M1473.35 1150.2A231.2 231.2 0 0 1 1446.65 1224.99L1430.29 1215.72A212.4 212.4 0 0 0 1454.83 1147.01Z" fill="none" stroke="#000" stroke-width="1" stroke-linejoin="miter"/>
<path d="M1483.29 1150.84A241.1 241.1 0 0 1 1454.74 1230.78" fill="none" stroke="#c85cc0" stroke-width="1.25"/>
<text transform="translate(1491.75 1195.57) rotate(19.65)" y="3.0" text-anchor="start" font-size="16" fill="#141414">5</text>
<path d="M1444.67 1228.41A231.2 231.2 0 0 1 1396.79 1285.83L1384.48 1271.62A212.4 212.4 0 0 0 1428.47 1218.87Z" fill="#fff"/>
<path d="M1444.15 1229.28A231.2 231.2 0 0 1 1443.73 1230L1427.61 1220.32A212.4 212.4 0 0 0 1428 1219.66ZM1442.03 1232.77A231.2 231.2 0 0 1 1441.62 1233.44L1425.67 1223.48A212.4 212.4 0 0 0 1426.05 1222.87ZM1437.15 1240.32A231.2 231.2 0 0 1 1436.8 1240.83L1421.25 1230.27A212.4 212.4 0 0 0 1421.56 1229.81ZM1436.04 1241.95A231.2 231.2 0 0 1 1435.06 1243.36L1419.65 1232.6A212.4 212.4 0 0 0 1420.54 1231.31Z" fill="#c8c8c8"/>
<path d="M1443.07 1231.09A231.2 231.2 0 0 1 1442.27 1232.4L1426.27 1222.52A212.4 212.4 0 0 0 1427 1221.32ZM1438.39 1238.46A231.2 231.2 0 0 1 1437.56 1239.7L1421.95 1229.24A212.4 212.4 0 0 0 1422.71 1228.1ZM1425.75 1255.79A231.2 231.2 0 0 1 1423.53 1258.51L1409.05 1246.52A212.4 212.4 0 0 0 1411.09 1244.02ZM1423.25 1258.85A231.2 231.2 0 0 1 1422.38 1259.89L1407.99 1247.78A212.4 212.4 0 0 0 1408.79 1246.83ZM1409.59 1273.88A231.2 231.2 0 0 1 1408.34 1275.12L1395.1 1261.77A212.4 212.4 0 0 0 1396.24 1260.63ZM1402.87 1280.38A231.2 231.2 0 0 1 1401.9 1281.27L1389.18 1267.42A212.4 212.4 0 0 0 1390.07 1266.6ZM1400.12 1282.89A231.2 231.2 0 0 1 1398.97 1283.92L1386.49 1269.86A212.4 212.4 0 0 0 1387.54 1268.92Z" fill="#969696"/>
<path d="M1441.2 1234.11A231.2 231.2 0 0 1 1438.83 1237.8L1423.11 1227.49A212.4 212.4 0 0 0 1425.28 1224.1ZM1414.64 1268.63A231.2 231.2 0 0 1 1413.52 1269.81L1399.86 1256.9A212.4 212.4 0 0 0 1400.88 1255.81ZM1410.85 1272.6A231.2 231.2 0 0 1 1409.86 1273.6L1396.5 1260.38A212.4 212.4 0 0 0 1397.4 1259.46ZM1407.16 1276.29A231.2 231.2 0 0 1 1405.96 1277.45L1392.91 1263.92A212.4 212.4 0 0 0 1394.01 1262.85ZM1405.07 1278.3A231.2 231.2 0 0 1 1403.99 1279.33L1391.1 1265.64A212.4 212.4 0 0 0 1392.1 1264.7Z" fill="#646464"/>
<path d="M1433.62 1245.4A231.2 231.2 0 0 1 1432.18 1247.4L1417 1236.31A212.4 212.4 0 0 0 1418.32 1234.48ZM1431.89 1247.79A231.2 231.2 0 0 1 1430.82 1249.23L1415.76 1237.99A212.4 212.4 0 0 0 1416.74 1236.66ZM1429.13 1251.47A231.2 231.2 0 0 1 1427.36 1253.76L1412.57 1242.15A212.4 212.4 0 0 0 1414.2 1240.05ZM1420.93 1261.6A231.2 231.2 0 0 1 1419.08 1263.72L1404.97 1251.3A212.4 212.4 0 0 0 1406.66 1249.35ZM1418.76 1264.08A231.2 231.2 0 0 1 1417.33 1265.68L1403.36 1253.11A212.4 212.4 0 0 0 1404.68 1251.63ZM1413.46 1269.88A231.2 231.2 0 0 1 1411.15 1272.28L1397.68 1259.17A212.4 212.4 0 0 0 1399.81 1256.96Z" fill="#000000"/>
<path d="M1430.43 1249.76A231.2 231.2 0 0 1 1430.09 1250.22L1415.08 1238.89A212.4 212.4 0 0 0 1415.39 1238.48ZM1430.09 1250.22A231.2 231.2 0 0 1 1429.35 1251.19L1414.4 1239.79A212.4 212.4 0 0 0 1415.08 1238.89Z" fill="#e8262a"/>
<path d="M1444.67 1228.41A231.2 231.2 0 0 1 1396.79 1285.83L1384.48 1271.62A212.4 212.4 0 0 0 1428.47 1218.87Z" fill="none" stroke="#000" stroke-width="1" stroke-linejoin="miter"/>
<path d="M1453.73 1232.53A241.1 241.1 0 0 1 1402.47 1294" fill="none" stroke="#2f6b3a" stroke-width="1.25"/>
<text transform="translate(1448.05 1272.07) rotate(39.82)" y="3.0" text-anchor="start" font-size="16" fill="#141414">6</text>
<path d="M1393.77 1288.4A231.2 231.2 0 0 1 1334.08 1324.56L1326.88 1307.19A212.4 212.4 0 0 0 1381.71 1273.97Z" fill="#fff"/>
<path d="M1392.82 1289.18A231.2 231.2 0 0 1 1392.25 1289.66L1380.31 1275.13A212.4 212.4 0 0 0 1380.84 1274.69ZM1346.11 1319.16A231.2 231.2 0 0 1 1345.63 1319.39L1337.49 1302.45A212.4 212.4 0 0 0 1337.93 1302.24ZM1336.74 1323.44A231.2 231.2 0 0 1 1335.72 1323.87L1328.39 1306.56A212.4 212.4 0 0 0 1329.32 1306.16Z" fill="#c8c8c8"/>
<path d="M1391.29 1290.44A231.2 231.2 0 0 1 1389.06 1292.23L1377.39 1277.49A212.4 212.4 0 0 0 1379.44 1275.85ZM1388.13 1292.97A231.2 231.2 0 0 1 1386.6 1294.15L1375.12 1279.26A212.4 212.4 0 0 0 1376.53 1278.17ZM1366.08 1308.27A231.2 231.2 0 0 1 1362.72 1310.28L1353.19 1294.08A212.4 212.4 0 0 0 1356.27 1292.23Z" fill="#000000"/>
<path d="M1384.99 1295.38A231.2 231.2 0 0 1 1384.11 1296.04L1372.84 1281A212.4 212.4 0 0 0 1373.64 1280.39ZM1370 1305.82A231.2 231.2 0 0 1 1368.06 1307.04L1358.1 1291.1A212.4 212.4 0 0 0 1359.87 1289.98ZM1356.05 1314.06A231.2 231.2 0 0 1 1355.78 1314.2L1346.81 1297.68A212.4 212.4 0 0 0 1347.06 1297.54ZM1344.76 1319.81A231.2 231.2 0 0 1 1342.52 1320.86L1334.64 1303.79A212.4 212.4 0 0 0 1336.69 1302.83Z" fill="#969696"/>
<path d="M1383.83 1296.26A231.2 231.2 0 0 1 1381.63 1297.88L1370.56 1282.68A212.4 212.4 0 0 0 1372.58 1281.19ZM1380.85 1298.44A231.2 231.2 0 0 1 1378.66 1300L1367.83 1284.63A212.4 212.4 0 0 0 1369.84 1283.2ZM1377.9 1300.53A231.2 231.2 0 0 1 1376.6 1301.44L1365.94 1285.95A212.4 212.4 0 0 0 1367.14 1285.12ZM1376.06 1301.81A231.2 231.2 0 0 1 1374.78 1302.68L1364.27 1287.09A212.4 212.4 0 0 0 1365.44 1286.29ZM1362.03 1310.68A231.2 231.2 0 0 1 1360.93 1311.32L1351.54 1295.03A212.4 212.4 0 0 0 1352.56 1294.45ZM1360.28 1311.7A231.2 231.2 0 0 1 1358.29 1312.82L1349.12 1296.41A212.4 212.4 0 0 0 1350.95 1295.38ZM1354.66 1314.81A231.2 231.2 0 0 1 1351.85 1316.29L1343.21 1299.59A212.4 212.4 0 0 0 1345.78 1298.24ZM1350.76 1316.85A231.2 231.2 0 0 1 1349.31 1317.59L1340.86 1300.79A212.4 212.4 0 0 0 1342.2 1300.11ZM1348.24 1318.12A231.2 231.2 0 0 1 1346.94 1318.76L1338.69 1301.86A212.4 212.4 0 0 0 1339.89 1301.28ZM1340.56 1321.75A231.2 231.2 0 0 1 1338.63 1322.61L1331.06 1305.4A212.4 212.4 0 0 0 1332.83 1304.61Z" fill="#646464"/>
<path d="M1373.28 1303.68A231.2 231.2 0 0 1 1372.55 1304.17L1362.22 1288.46A212.4 212.4 0 0 0 1362.89 1288.01ZM1372.55 1304.17A231.2 231.2 0 0 1 1371.81 1304.65L1361.54 1288.9A212.4 212.4 0 0 0 1362.22 1288.46Z" fill="#e8262a"/>
<path d="M1393.77 1288.4A231.2 231.2 0 0 1 1334.08 1324.56L1326.88 1307.19A212.4 212.4 0 0 0 1381.71 1273.97Z" fill="none" stroke="#000" stroke-width="1" stroke-linejoin="miter"/>
<path d="M1400.93 1295.31A241.1 241.1 0 0 1 1336.9 1334.1" fill="none" stroke="#4a5fc8" stroke-width="1.25"/>
<text transform="translate(1385.22 1326.1) rotate(58.79)" y="3.0" text-anchor="start" font-size="16" fill="#141414">7</text>
<path d="M1330.42 1326.04A231.2 231.2 0 0 1 1268.6 1341.04L1266.73 1322.34A212.4 212.4 0 0 0 1323.51 1308.56Z" fill="#fff"/>
<path d="M1329.52 1326.39A231.2 231.2 0 0 1 1327.9 1327.02L1321.2 1309.45A212.4 212.4 0 0 0 1322.69 1308.88ZM1318.62 1330.33A231.2 231.2 0 0 1 1315.43 1331.37L1309.74 1313.45A212.4 212.4 0 0 0 1312.67 1312.5ZM1308.87 1333.35A231.2 231.2 0 0 1 1308.7 1333.39L1303.56 1315.31A212.4 212.4 0 0 0 1303.72 1315.27ZM1297.09 1336.37A231.2 231.2 0 0 1 1295.18 1336.8L1291.14 1318.44A212.4 212.4 0 0 0 1292.9 1318.04ZM1285.94 1338.64A231.2 231.2 0 0 1 1284.09 1338.96L1280.96 1320.42A212.4 212.4 0 0 0 1282.65 1320.13ZM1272.92 1340.57A231.2 231.2 0 0 1 1271.4 1340.74L1269.3 1322.06A212.4 212.4 0 0 0 1270.69 1321.9Z" fill="#646464"/>
<path d="M1325.24 1328.01A231.2 231.2 0 0 1 1322.66 1328.95L1316.38 1311.22A212.4 212.4 0 0 0 1318.76 1310.37ZM1299.72 1335.75A231.2 231.2 0 0 1 1297.86 1336.19L1293.6 1317.88A212.4 212.4 0 0 0 1295.31 1317.48ZM1294.2 1337.01A231.2 231.2 0 0 1 1291.47 1337.58L1287.73 1319.16A212.4 212.4 0 0 0 1290.24 1318.64ZM1283.41 1339.07A231.2 231.2 0 0 1 1281 1339.46L1278.11 1320.88A212.4 212.4 0 0 0 1280.32 1320.53Z" fill="#000000"/>
<path d="M1320.89 1329.56A231.2 231.2 0 0 1 1319.2 1330.14L1313.2 1312.32A212.4 212.4 0 0 0 1314.76 1311.79ZM1307.49 1333.74A231.2 231.2 0 0 1 1304.92 1334.43L1300.09 1316.27A212.4 212.4 0 0 0 1302.45 1315.62ZM1304.67 1334.5A231.2 231.2 0 0 1 1303.06 1334.92L1298.38 1316.71A212.4 212.4 0 0 0 1299.86 1316.33ZM1302.22 1335.13A231.2 231.2 0 0 1 1301.16 1335.4L1296.64 1317.15A212.4 212.4 0 0 0 1297.61 1316.91ZM1280.35 1339.56A231.2 231.2 0 0 1 1278.93 1339.77L1276.21 1321.17A212.4 212.4 0 0 0 1277.52 1320.97ZM1276.85 1340.06A231.2 231.2 0 0 1 1275.04 1340.31L1272.64 1321.66A212.4 212.4 0 0 0 1274.31 1321.44Z" fill="#969696"/>
<path d="M1314.68 1331.61A231.2 231.2 0 0 1 1314.09 1331.79L1308.52 1313.84A212.4 212.4 0 0 0 1309.05 1313.67ZM1289.03 1338.07A231.2 231.2 0 0 1 1287.91 1338.28L1284.47 1319.8A212.4 212.4 0 0 0 1285.49 1319.6Z" fill="#c8c8c8"/>
<path d="M1312.64 1332.24A231.2 231.2 0 0 1 1311.8 1332.49L1306.41 1314.48A212.4 212.4 0 0 0 1307.18 1314.25ZM1311.8 1332.49A231.2 231.2 0 0 1 1310.97 1332.74L1305.64 1314.71A212.4 212.4 0 0 0 1306.41 1314.48Z" fill="#e8262a"/>
<path d="M1330.42 1326.04A231.2 231.2 0 0 1 1268.6 1341.04L1266.73 1322.34A212.4 212.4 0 0 0 1323.51 1308.56Z" fill="none" stroke="#000" stroke-width="1" stroke-linejoin="miter"/>
<path d="M1335.03 1334.86A241.1 241.1 0 0 1 1268.55 1351" fill="none" stroke="#a0522d" stroke-width="1.25"/>
<text transform="translate(1314.22 1355.41) rotate(76.36)" y="3.0" text-anchor="start" font-size="16" fill="#141414">8</text>
<path d="M1264.66 1341.4A231.2 231.2 0 0 1 1204.07 1338.46L1207.44 1319.96A212.4 212.4 0 0 0 1263.11 1322.67Z" fill="#fff"/>
<path d="M1263.72 1341.48A231.2 231.2 0 0 1 1262.69 1341.56L1261.29 1322.81A212.4 212.4 0 0 0 1262.24 1322.74ZM1257.53 1341.89A231.2 231.2 0 0 1 1256.71 1341.93L1255.8 1323.15A212.4 212.4 0 0 0 1256.55 1323.11ZM1249.05 1342.17A231.2 231.2 0 0 1 1248.14 1342.18L1247.93 1323.39A212.4 212.4 0 0 0 1248.76 1323.38ZM1235.09 1341.97A231.2 231.2 0 0 1 1233.58 1341.89L1234.55 1323.12A212.4 212.4 0 0 0 1235.94 1323.18ZM1225.16 1341.3A231.2 231.2 0 0 1 1224.26 1341.22L1225.99 1322.5A212.4 212.4 0 0 0 1226.81 1322.58ZM1223.1 1341.11A231.2 231.2 0 0 1 1221.94 1341L1223.86 1322.29A212.4 212.4 0 0 0 1224.92 1322.4ZM1216.81 1340.41A231.2 231.2 0 0 1 1215.27 1340.21L1217.73 1321.58A212.4 212.4 0 0 0 1219.14 1321.76ZM1210.62 1339.55A231.2 231.2 0 0 1 1208.7 1339.25L1211.69 1320.69A212.4 212.4 0 0 0 1213.45 1320.97ZM1207.34 1339.03A231.2 231.2 0 0 1 1207.13 1338.99L1210.25 1320.45A212.4 212.4 0 0 0 1210.44 1320.49ZM1206.32 1338.86A231.2 231.2 0 0 1 1205.69 1338.75L1208.92 1320.23A212.4 212.4 0 0 0 1209.51 1320.33Z" fill="#c8c8c8"/>
<path d="M1260.8 1341.69A231.2 231.2 0 0 1 1258.56 1341.83L1257.5 1323.06A212.4 212.4 0 0 0 1259.55 1322.93ZM1214.07 1340.05A231.2 231.2 0 0 1 1212.02 1339.76L1214.75 1321.16A212.4 212.4 0 0 0 1216.63 1321.43Z" fill="#646464"/>
<path d="M1256.11 1341.96A231.2 231.2 0 0 1 1253.65 1342.06L1252.99 1323.27A212.4 212.4 0 0 0 1255.25 1323.18ZM1252.62 1342.09A231.2 231.2 0 0 1 1250.38 1342.15L1249.98 1323.35A212.4 212.4 0 0 0 1252.04 1323.3ZM1220.53 1340.85A231.2 231.2 0 0 1 1218.13 1340.57L1220.36 1321.91A212.4 212.4 0 0 0 1222.56 1322.16Z" fill="#000000"/>
<path d="M1247.02 1342.19A231.2 231.2 0 0 1 1246.16 1342.2L1246.11 1323.4A212.4 212.4 0 0 0 1246.9 1323.4ZM1232.81 1341.85A231.2 231.2 0 0 1 1230.57 1341.72L1231.79 1322.96A212.4 212.4 0 0 0 1233.84 1323.08ZM1229.76 1341.66A231.2 231.2 0 0 1 1228.47 1341.57L1229.85 1322.82A212.4 212.4 0 0 0 1231.04 1322.91ZM1227.26 1341.48A231.2 231.2 0 0 1 1225.76 1341.36L1227.37 1322.62A212.4 212.4 0 0 0 1228.75 1322.74Z" fill="#969696"/>
<path d="M1245.77 1342.2A231.2 231.2 0 0 1 1245.21 1342.2L1245.23 1323.4A212.4 212.4 0 0 0 1245.75 1323.4ZM1245.21 1342.2A231.2 231.2 0 0 1 1244.69 1342.2L1244.76 1323.4A212.4 212.4 0 0 0 1245.23 1323.4Z" fill="#e8262a"/>
<path d="M1244.69 1342.2A231.2 231.2 0 0 1 1236.9 1342.04L1237.6 1323.25A212.4 212.4 0 0 0 1244.76 1323.4Z" fill="#d6d6d6"/>
<path d="M1264.66 1341.4A231.2 231.2 0 0 1 1204.07 1338.46L1207.44 1319.96A212.4 212.4 0 0 0 1263.11 1322.67Z" fill="none" stroke="#000" stroke-width="1" stroke-linejoin="miter"/>
<path d="M1266.53 1351.18A241.1 241.1 0 0 1 1201.26 1348.01" fill="none" stroke="#e36a9a" stroke-width="1.25"/>
<text transform="translate(1223.88 1362.2) rotate(-87.22)" y="3.0" text-anchor="end" font-size="16" fill="#141414">9</text>
<path d="M1200.18 1337.72A231.2 231.2 0 0 1 1144.58 1319.01L1152.79 1302.1A212.4 212.4 0 0 0 1203.87 1319.28Z" fill="#fff"/>
<path d="M1198.91 1337.46A231.2 231.2 0 0 1 1198.57 1337.39L1202.38 1318.98A212.4 212.4 0 0 0 1202.7 1319.04ZM1186.95 1334.66A231.2 231.2 0 0 1 1185.65 1334.32L1190.51 1316.16A212.4 212.4 0 0 0 1191.71 1316.48ZM1180.76 1332.95A231.2 231.2 0 0 1 1179.18 1332.48L1184.57 1314.47A212.4 212.4 0 0 0 1186.02 1314.9ZM1157.46 1324.78A231.2 231.2 0 0 1 1156.7 1324.47L1163.92 1307.11A212.4 212.4 0 0 0 1164.62 1307.4Z" fill="#c8c8c8"/>
<path d="M1197.38 1337.14A231.2 231.2 0 0 1 1195 1336.62L1199.11 1318.27A212.4 212.4 0 0 0 1201.29 1318.75ZM1192.85 1336.12A231.2 231.2 0 0 1 1192.3 1336L1196.62 1317.7A212.4 212.4 0 0 0 1197.13 1317.82ZM1192.25 1335.99A231.2 231.2 0 0 1 1190.61 1335.59L1195.07 1317.33A212.4 212.4 0 0 0 1196.58 1317.69ZM1162.91 1326.94A231.2 231.2 0 0 1 1161.53 1326.41L1168.36 1308.9A212.4 212.4 0 0 0 1169.62 1309.39ZM1152.71 1322.76A231.2 231.2 0 0 1 1151.04 1322.02L1158.72 1304.87A212.4 212.4 0 0 0 1160.26 1305.54Z" fill="#646464"/>
<path d="M1189.77 1335.38A231.2 231.2 0 0 1 1187.66 1334.85L1192.36 1316.65A212.4 212.4 0 0 0 1194.3 1317.14ZM1168.86 1329.13A231.2 231.2 0 0 1 1167.71 1328.72L1174.04 1311.02A212.4 212.4 0 0 0 1175.09 1311.39ZM1161.05 1326.22A231.2 231.2 0 0 1 1159.88 1325.76L1166.84 1308.3A212.4 212.4 0 0 0 1167.91 1308.72ZM1158.95 1325.39A231.2 231.2 0 0 1 1157.91 1324.96L1165.03 1307.57A212.4 212.4 0 0 0 1165.99 1307.96ZM1150.01 1321.56A231.2 231.2 0 0 1 1149.46 1321.31L1157.27 1304.21A212.4 212.4 0 0 0 1157.78 1304.44ZM1147.73 1320.51A231.2 231.2 0 0 1 1146.51 1319.94L1154.56 1302.95A212.4 212.4 0 0 0 1155.68 1303.47Z" fill="#969696"/>
<path d="M1184.14 1333.91A231.2 231.2 0 0 1 1183.39 1333.7L1188.44 1315.59A212.4 212.4 0 0 0 1189.13 1315.78ZM1183.39 1333.7A231.2 231.2 0 0 1 1182.63 1333.49L1187.75 1315.4A212.4 212.4 0 0 0 1188.44 1315.59Z" fill="#e8262a"/>
<path d="M1177.93 1332.11A231.2 231.2 0 0 1 1174.49 1331.03L1180.27 1313.13A212.4 212.4 0 0 0 1183.42 1314.13ZM1173.13 1330.58A231.2 231.2 0 0 1 1170.62 1329.74L1176.71 1311.95A212.4 212.4 0 0 0 1179.02 1312.73ZM1165.96 1328.09A231.2 231.2 0 0 1 1163.56 1327.19L1170.22 1309.61A212.4 212.4 0 0 0 1172.43 1310.43ZM1156.34 1324.32A231.2 231.2 0 0 1 1153.9 1323.28L1161.35 1306.02A212.4 212.4 0 0 0 1163.59 1306.97Z" fill="#000000"/>
<path d="M1200.18 1337.72A231.2 231.2 0 0 1 1144.58 1319.01L1152.79 1302.1A212.4 212.4 0 0 0 1203.87 1319.28Z" fill="none" stroke="#000" stroke-width="1" stroke-linejoin="miter"/>
<path d="M1199.27 1347.63A241.1 241.1 0 0 1 1139.31 1327.46" fill="none" stroke="#3cb371" stroke-width="1.25"/>
<text transform="translate(1155.91 1349.37) rotate(-71.41)" y="3.0" text-anchor="end" font-size="16" fill="#141414">10</text>
<path d="M1141.04 1317.25A231.2 231.2 0 0 1 1092.06 1283.95L1104.54 1269.88A212.4 212.4 0 0 0 1149.53 1300.48Z" fill="#fff"/>
<path d="M1139.94 1316.69A231.2 231.2 0 0 1 1136.86 1315.08L1145.69 1298.49A212.4 212.4 0 0 0 1148.52 1299.97ZM1136.08 1314.67A231.2 231.2 0 0 1 1134.73 1313.94L1143.74 1297.43A212.4 212.4 0 0 0 1144.98 1298.11ZM1114.43 1301.46A231.2 231.2 0 0 1 1112.69 1300.25L1123.49 1284.86A212.4 212.4 0 0 0 1125.08 1285.97ZM1099.61 1290.36A231.2 231.2 0 0 1 1098.93 1289.8L1110.84 1275.26A212.4 212.4 0 0 0 1111.47 1275.77ZM1096.66 1287.92A231.2 231.2 0 0 1 1095.75 1287.15L1107.93 1272.83A212.4 212.4 0 0 0 1108.76 1273.53ZM1094.45 1286.03A231.2 231.2 0 0 1 1093.45 1285.17L1105.82 1271.01A212.4 212.4 0 0 0 1106.73 1271.8Z" fill="#969696"/>
<path d="M1132.61 1312.77A231.2 231.2 0 0 1 1130.93 1311.81L1140.24 1295.48A212.4 212.4 0 0 0 1141.79 1296.36ZM1127.01 1309.53A231.2 231.2 0 0 1 1124.34 1307.91L1134.19 1291.9A212.4 212.4 0 0 0 1136.65 1293.39ZM1112.01 1299.77A231.2 231.2 0 0 1 1108.97 1297.59L1120.08 1282.41A212.4 212.4 0 0 0 1122.86 1284.42ZM1108.02 1296.88A231.2 231.2 0 0 1 1106.43 1295.7L1117.74 1280.68A212.4 212.4 0 0 0 1119.2 1281.77ZM1104.89 1294.53A231.2 231.2 0 0 1 1103.18 1293.21L1114.76 1278.39A212.4 212.4 0 0 0 1116.32 1279.6ZM1102.91 1292.99A231.2 231.2 0 0 1 1100.33 1290.94L1112.13 1276.31A212.4 212.4 0 0 0 1114.5 1278.19Z" fill="#000000"/>
<path d="M1130.51 1311.57A231.2 231.2 0 0 1 1129.06 1310.74L1138.53 1294.5A212.4 212.4 0 0 0 1139.86 1295.26ZM1122.36 1306.68A231.2 231.2 0 0 1 1121.54 1306.16L1131.62 1290.29A212.4 212.4 0 0 0 1132.38 1290.77ZM1119.77 1305.02A231.2 231.2 0 0 1 1118.26 1304.04L1128.6 1288.34A212.4 212.4 0 0 0 1129.99 1289.25Z" fill="#646464"/>
<path d="M1121.54 1306.16A231.2 231.2 0 0 1 1120.65 1305.59L1130.81 1289.77A212.4 212.4 0 0 0 1131.62 1290.29ZM1120.65 1305.59A231.2 231.2 0 0 1 1119.77 1305.02L1129.99 1289.25A212.4 212.4 0 0 0 1130.81 1289.77Z" fill="#e8262a"/>
<path d="M1117.6 1303.6A231.2 231.2 0 0 1 1116.97 1303.18L1127.43 1287.56A212.4 212.4 0 0 0 1128 1287.94ZM1116.06 1302.57A231.2 231.2 0 0 1 1115.15 1301.95L1125.75 1286.43A212.4 212.4 0 0 0 1126.59 1286.99Z" fill="#c8c8c8"/>
<path d="M1141.04 1317.25A231.2 231.2 0 0 1 1092.06 1283.95L1104.54 1269.88A212.4 212.4 0 0 0 1149.53 1300.48Z" fill="none" stroke="#000" stroke-width="1" stroke-linejoin="miter"/>
<path d="M1137.5 1326.56A241.1 241.1 0 0 1 1084.71 1290.65" fill="none" stroke="#8b2635" stroke-width="1.25"/>
<text transform="translate(1094.66 1318.96) rotate(-55.78)" y="3.0" text-anchor="end" font-size="16" fill="#141414">11</text>
<path d="M1089.12 1281.29A231.2 231.2 0 0 1 1051.42 1236.65L1067.2 1226.43A212.4 212.4 0 0 0 1101.84 1267.45Z" fill="#fff"/>
<path d="M1088.06 1280.31A231.2 231.2 0 0 1 1087.39 1279.69L1100.25 1265.97A212.4 212.4 0 0 0 1100.87 1266.55ZM1073.99 1266.04A231.2 231.2 0 0 1 1073.29 1265.26L1087.29 1252.72A212.4 212.4 0 0 0 1087.94 1253.44ZM1072.3 1264.15A231.2 231.2 0 0 1 1071.81 1263.59L1085.93 1251.18A212.4 212.4 0 0 0 1086.38 1251.7ZM1056.86 1244.67A231.2 231.2 0 0 1 1056.71 1244.46L1072.06 1233.61A212.4 212.4 0 0 0 1072.2 1233.8Z" fill="#c8c8c8"/>
<path d="M1085.9 1278.27A231.2 231.2 0 0 1 1085.04 1277.46L1098.09 1263.92A212.4 212.4 0 0 0 1098.88 1264.67ZM1071.37 1263.1A231.2 231.2 0 0 1 1069.94 1261.44L1084.22 1249.21A212.4 212.4 0 0 0 1085.53 1250.73ZM1067.57 1258.63A231.2 231.2 0 0 1 1066.4 1257.21L1080.97 1245.32A212.4 212.4 0 0 0 1082.04 1246.63ZM1060.86 1250.15A231.2 231.2 0 0 1 1059.45 1248.26L1074.58 1237.1A212.4 212.4 0 0 0 1075.88 1238.84Z" fill="#646464"/>
<path d="M1084.41 1276.85A231.2 231.2 0 0 1 1082.79 1275.25L1096.02 1261.9A212.4 212.4 0 0 0 1097.51 1263.36ZM1082.39 1274.85A231.2 231.2 0 0 1 1080.78 1273.24L1094.17 1260.05A212.4 212.4 0 0 0 1095.65 1261.53ZM1077.35 1269.68A231.2 231.2 0 0 1 1074.79 1266.92L1088.67 1254.24A212.4 212.4 0 0 0 1091.02 1256.77ZM1065.14 1255.65A231.2 231.2 0 0 1 1063.4 1253.45L1078.2 1241.87A212.4 212.4 0 0 0 1079.8 1243.88ZM1062.78 1252.66A231.2 231.2 0 0 1 1061.82 1251.41L1076.75 1239.99A212.4 212.4 0 0 0 1077.64 1241.14Z" fill="#000000"/>
<path d="M1080.38 1272.83A231.2 231.2 0 0 1 1079.5 1271.92L1092.99 1258.84A212.4 212.4 0 0 0 1093.81 1259.67ZM1069.37 1260.78A231.2 231.2 0 0 1 1068.64 1259.91L1083.02 1247.8A212.4 212.4 0 0 0 1083.7 1248.6ZM1058.88 1247.48A231.2 231.2 0 0 1 1057.55 1245.64L1072.83 1234.69A212.4 212.4 0 0 0 1074.06 1236.38ZM1056.2 1243.74A231.2 231.2 0 0 1 1055.58 1242.85L1071.02 1232.12A212.4 212.4 0 0 0 1071.6 1232.95ZM1055.25 1242.38A231.2 231.2 0 0 1 1054.61 1241.44L1070.13 1230.83A212.4 212.4 0 0 0 1070.72 1231.69ZM1053.34 1239.55A231.2 231.2 0 0 1 1052.51 1238.31L1068.2 1227.96A212.4 212.4 0 0 0 1068.96 1229.1Z" fill="#969696"/>
<path d="M1078.74 1271.13A231.2 231.2 0 0 1 1078.04 1270.41L1091.66 1257.44A212.4 212.4 0 0 0 1092.3 1258.11ZM1078.04 1270.41A231.2 231.2 0 0 1 1077.35 1269.68L1091.02 1256.77A212.4 212.4 0 0 0 1091.66 1257.44Z" fill="#e8262a"/>
<path d="M1089.12 1281.29A231.2 231.2 0 0 1 1051.42 1236.65L1067.2 1226.43A212.4 212.4 0 0 0 1101.84 1267.45Z" fill="none" stroke="#000" stroke-width="1" stroke-linejoin="miter"/>
<path d="M1083.21 1289.3A241.1 241.1 0 0 1 1042.54 1241.14" fill="none" stroke="#ee7942" stroke-width="1.25"/>
<text transform="translate(1043.95 1273.26) rotate(-40.18)" y="3.0" text-anchor="end" font-size="16" fill="#141414">12</text>
<path d="M1049.3 1233.31A231.2 231.2 0 0 1 1027.53 1188.1L1045.26 1181.83A212.4 212.4 0 0 0 1065.25 1223.36Z" fill="#fff"/>
<path d="M1049.3 1233.31A231.2 231.2 0 0 1 1048.25 1231.6L1064.28 1221.79A212.4 212.4 0 0 0 1065.25 1223.36ZM1047 1229.54A231.2 231.2 0 0 1 1045.59 1227.14L1061.84 1217.69A212.4 212.4 0 0 0 1063.14 1219.9Z" fill="#d6d6d6"/>
<path d="M1048.25 1231.6A231.2 231.2 0 0 1 1047 1229.54L1063.14 1219.9A212.4 212.4 0 0 0 1064.28 1221.79Z" fill="#3b7bc4"/>
<path d="M1045.59 1227.14A231.2 231.2 0 0 1 1045.32 1226.68L1061.6 1217.28A212.4 212.4 0 0 0 1061.84 1217.69ZM1045.32 1226.68A231.2 231.2 0 0 1 1045.06 1226.23L1061.36 1216.86A212.4 212.4 0 0 0 1061.6 1217.28Z" fill="#e8262a"/>
<path d="M1044.11 1224.56A231.2 231.2 0 0 1 1043.64 1223.72L1060.06 1214.56A212.4 212.4 0 0 0 1060.49 1215.33ZM1043.15 1222.84A231.2 231.2 0 0 1 1042.92 1222.42L1059.39 1213.36A212.4 212.4 0 0 0 1059.61 1213.75ZM1039.59 1216.14A231.2 231.2 0 0 1 1039.47 1215.9L1056.22 1207.37A212.4 212.4 0 0 0 1056.33 1207.59ZM1030.11 1195.04A231.2 231.2 0 0 1 1029.94 1194.59L1047.47 1187.8A212.4 212.4 0 0 0 1047.63 1188.21Z" fill="#c8c8c8"/>
<path d="M1042.23 1221.16A231.2 231.2 0 0 1 1041.86 1220.47L1058.42 1211.57A212.4 212.4 0 0 0 1058.76 1212.2ZM1039.17 1215.32A231.2 231.2 0 0 1 1038.47 1213.92L1055.3 1205.55A212.4 212.4 0 0 0 1055.95 1206.84ZM1033.93 1204.23A231.2 231.2 0 0 1 1033.62 1203.51L1050.85 1195.99A212.4 212.4 0 0 0 1051.13 1196.65Z" fill="#969696"/>
<path d="M1041.55 1219.89A231.2 231.2 0 0 1 1040.61 1218.12L1057.27 1209.41A212.4 212.4 0 0 0 1058.13 1211.04ZM1036.3 1209.44A231.2 231.2 0 0 1 1035.67 1208.09L1052.74 1200.2A212.4 212.4 0 0 0 1053.31 1201.43Z" fill="#646464"/>
<path d="M1037.62 1212.19A231.2 231.2 0 0 1 1036.81 1210.5L1053.78 1202.41A212.4 212.4 0 0 0 1054.52 1203.96ZM1035.15 1206.94A231.2 231.2 0 0 1 1034.3 1205.07L1051.48 1197.42A212.4 212.4 0 0 0 1052.25 1199.14ZM1033.3 1202.79A231.2 231.2 0 0 1 1031.82 1199.29L1049.2 1192.11A212.4 212.4 0 0 0 1050.56 1195.33ZM1031.44 1198.36A231.2 231.2 0 0 1 1030.63 1196.34L1048.1 1189.4A212.4 212.4 0 0 0 1048.85 1191.26ZM1029.56 1193.61A231.2 231.2 0 0 1 1029.08 1192.35L1046.68 1185.73A212.4 212.4 0 0 0 1047.12 1186.9ZM1028.75 1191.45A231.2 231.2 0 0 1 1028.25 1190.1L1045.92 1183.67A212.4 212.4 0 0 0 1046.37 1184.91Z" fill="#000000"/>
<path d="M1049.3 1233.31A231.2 231.2 0 0 1 1027.53 1188.1L1045.26 1181.83A212.4 212.4 0 0 0 1065.25 1223.36Z" fill="none" stroke="#000" stroke-width="1" stroke-linejoin="miter"/>
<path d="M1041.46 1239.44A241.1 241.1 0 0 1 1017.85 1190.41" fill="none" stroke="#4a7fd0" stroke-width="1.25"/>
<text transform="translate(1009.5 1220.1) rotate(-25.71)" y="3.0" text-anchor="end" font-size="16" fill="#141414">13</text>
<path d="M1026.25 1184.36A231.2 231.2 0 0 1 1015.94 1138.52L1034.61 1136.28A212.4 212.4 0 0 0 1044.07 1178.39Z" fill="#fff"/>
<path d="M1026.25 1184.36A231.2 231.2 0 0 1 1025.75 1182.86L1043.62 1177.01A212.4 212.4 0 0 0 1044.07 1178.39ZM1025.16 1181.02A231.2 231.2 0 0 1 1024.11 1177.63L1042.11 1172.21A212.4 212.4 0 0 0 1043.08 1175.33Z" fill="#d6d6d6"/>
<path d="M1025.75 1182.86A231.2 231.2 0 0 1 1025.16 1181.02L1043.08 1175.33A212.4 212.4 0 0 0 1043.62 1177.01Z" fill="#3b7bc4"/>
<path d="M1024.11 1177.63A231.2 231.2 0 0 1 1023.97 1177.17L1041.98 1171.79A212.4 212.4 0 0 0 1042.11 1172.21ZM1023.97 1177.17A231.2 231.2 0 0 1 1023.85 1176.75L1041.87 1171.4A212.4 212.4 0 0 0 1041.98 1171.79Z" fill="#e8262a"/>
<path d="M1023.06 1174.05A231.2 231.2 0 0 1 1022.05 1170.38L1040.22 1165.55A212.4 212.4 0 0 0 1041.15 1168.93ZM1021.56 1168.47A231.2 231.2 0 0 1 1020.95 1166.04L1039.21 1161.57A212.4 212.4 0 0 0 1039.77 1163.79ZM1020.57 1164.47A231.2 231.2 0 0 1 1020.2 1162.89L1038.52 1158.67A212.4 212.4 0 0 0 1038.86 1160.12ZM1017.73 1150.69A231.2 231.2 0 0 1 1017.42 1148.83L1035.96 1145.75A212.4 212.4 0 0 0 1036.25 1147.46ZM1017.32 1148.27A231.2 231.2 0 0 1 1016.99 1146.14L1035.57 1143.29A212.4 212.4 0 0 0 1035.88 1145.23Z" fill="#000000"/>
<path d="M1021.83 1169.53A231.2 231.2 0 0 1 1021.69 1168.98L1039.89 1164.26A212.4 212.4 0 0 0 1040.02 1164.77ZM1018.91 1156.93A231.2 231.2 0 0 1 1018.64 1155.6L1037.09 1151.97A212.4 212.4 0 0 0 1037.33 1153.2ZM1018.45 1154.61A231.2 231.2 0 0 1 1018.16 1153.06L1036.64 1149.64A212.4 212.4 0 0 0 1036.91 1151.06ZM1016.57 1143.32A231.2 231.2 0 0 1 1016.27 1141.11L1034.91 1138.66A212.4 212.4 0 0 0 1035.19 1140.7ZM1016.17 1140.33A231.2 231.2 0 0 1 1016.12 1139.98L1034.78 1137.62A212.4 212.4 0 0 0 1034.82 1137.94Z" fill="#969696"/>
<path d="M1019.89 1161.52A231.2 231.2 0 0 1 1019.75 1160.92L1038.11 1156.86A212.4 212.4 0 0 0 1038.23 1157.41ZM1016.85 1145.23A231.2 231.2 0 0 1 1016.67 1144.02L1035.28 1141.33A212.4 212.4 0 0 0 1035.44 1142.45Z" fill="#c8c8c8"/>
<path d="M1019.51 1159.81A231.2 231.2 0 0 1 1019.15 1158.09L1037.55 1154.26A212.4 212.4 0 0 0 1037.89 1155.84Z" fill="#646464"/>
<path d="M1026.25 1184.36A231.2 231.2 0 0 1 1015.94 1138.52L1034.61 1136.28A212.4 212.4 0 0 0 1044.07 1178.39Z" fill="none" stroke="#000" stroke-width="1" stroke-linejoin="miter"/>
<path d="M1017.19 1188.49A241.1 241.1 0 0 1 1005.99 1138.66" fill="none" stroke="#48d1cc" stroke-width="1.25"/>
<text transform="translate(990.72 1166.15) rotate(-12.67)" y="3.0" text-anchor="end" font-size="16" fill="#141414">14</text>
<path d="M1015.51 1134.59A231.2 231.2 0 0 1 1015.27 1089.82L1033.99 1091.54A212.4 212.4 0 0 0 1034.21 1132.67Z" fill="#fff"/>
<path d="M1015.51 1134.59A231.2 231.2 0 0 1 1015.33 1132.76L1034.04 1130.99A212.4 212.4 0 0 0 1034.21 1132.67ZM1015.11 1130.37A231.2 231.2 0 0 1 1014.85 1126.96L1033.61 1125.67A212.4 212.4 0 0 0 1033.85 1128.79Z" fill="#d6d6d6"/>
<path d="M1015.33 1132.76A231.2 231.2 0 0 1 1015.11 1130.37L1033.85 1128.79A212.4 212.4 0 0 0 1034.04 1130.99Z" fill="#3b7bc4"/>
<path d="M1014.85 1126.96A231.2 231.2 0 0 1 1014.81 1126.31L1033.57 1125.07A212.4 212.4 0 0 0 1033.61 1125.67ZM1014.81 1126.31A231.2 231.2 0 0 1 1014.76 1125.66L1033.53 1124.46A212.4 212.4 0 0 0 1033.57 1125.07Z" fill="#e8262a"/>
<path d="M1014.63 1123.39A231.2 231.2 0 0 1 1014.58 1122.34L1033.36 1121.42A212.4 212.4 0 0 0 1033.4 1122.38ZM1014.53 1121.38A231.2 231.2 0 0 1 1014.52 1120.98L1033.3 1120.17A212.4 212.4 0 0 0 1033.31 1120.53ZM1014.54 1100.39A231.2 231.2 0 0 1 1014.62 1098.91L1033.39 1099.89A212.4 212.4 0 0 0 1033.32 1101.25ZM1014.7 1097.38A231.2 231.2 0 0 1 1014.81 1095.68L1033.57 1096.92A212.4 212.4 0 0 0 1033.47 1098.49ZM1014.97 1093.41A231.2 231.2 0 0 1 1015.12 1091.58L1033.85 1093.16A212.4 212.4 0 0 0 1033.72 1094.84Z" fill="#969696"/>
<path d="M1014.47 1119.93A231.2 231.2 0 0 1 1014.38 1117.09L1033.17 1116.6A212.4 212.4 0 0 0 1033.26 1119.21ZM1014.34 1115.04A231.2 231.2 0 0 1 1014.31 1112.98L1033.11 1112.82A212.4 212.4 0 0 0 1033.13 1114.71ZM1014.3 1111.5A231.2 231.2 0 0 1 1014.31 1108.78L1033.11 1108.96A212.4 212.4 0 0 0 1033.1 1111.46Z" fill="#646464"/>
<path d="M1014.35 1115.91A231.2 231.2 0 0 1 1014.35 1115.56L1033.14 1115.19A212.4 212.4 0 0 0 1033.15 1115.51ZM1014.31 1108.7A231.2 231.2 0 0 1 1014.34 1106.77L1033.14 1107.12A212.4 212.4 0 0 0 1033.11 1108.88ZM1014.37 1105.24A231.2 231.2 0 0 1 1014.37 1105.2L1033.17 1105.67A212.4 212.4 0 0 0 1033.17 1105.71ZM1014.37 1105.11A231.2 231.2 0 0 1 1014.44 1102.84L1033.23 1103.5A212.4 212.4 0 0 0 1033.17 1105.59ZM1014.49 1101.75A231.2 231.2 0 0 1 1014.51 1101.13L1033.29 1101.94A212.4 212.4 0 0 0 1033.27 1102.5Z" fill="#c8c8c8"/>
<path d="M1015.51 1134.59A231.2 231.2 0 0 1 1015.27 1089.82L1033.99 1091.54A212.4 212.4 0 0 0 1034.21 1132.67Z" fill="none" stroke="#000" stroke-width="1" stroke-linejoin="miter"/>
<path d="M1005.77 1136.65A241.1 241.1 0 0 1 1005.51 1087.87" fill="none" stroke="#9a5fd0" stroke-width="1.25"/>
<text transform="translate(984.6 1112.32) rotate(-0.3)" y="3.0" text-anchor="end" font-size="16" fill="#141414">15</text>
<path d="M1015.67 1085.89A231.2 231.2 0 0 1 1023.34 1046.97L1041.41 1052.17A212.4 212.4 0 0 0 1034.36 1087.93Z" fill="#fff"/>
<path d="M1016.07 1082.44A231.2 231.2 0 0 1 1016.22 1081.3L1034.86 1083.72A212.4 212.4 0 0 0 1034.73 1084.76ZM1016.34 1080.39A231.2 231.2 0 0 1 1016.47 1079.43L1035.09 1082A212.4 212.4 0 0 0 1034.97 1082.88ZM1016.59 1078.56A231.2 231.2 0 0 1 1016.87 1076.64L1035.46 1079.44A212.4 212.4 0 0 0 1035.2 1081.2ZM1017.07 1075.34A231.2 231.2 0 0 1 1017.34 1073.65L1035.89 1076.68A212.4 212.4 0 0 0 1035.64 1078.24ZM1019.32 1063.06A231.2 231.2 0 0 1 1019.7 1061.3L1038.07 1065.34A212.4 212.4 0 0 0 1037.72 1066.96ZM1021.12 1055.27A231.2 231.2 0 0 1 1021.34 1054.37L1039.57 1058.98A212.4 212.4 0 0 0 1039.36 1059.8ZM1022.32 1050.63A231.2 231.2 0 0 1 1022.61 1049.57L1040.73 1054.56A212.4 212.4 0 0 0 1040.47 1055.54Z" fill="#969696"/>
<path d="M1017.87 1070.53A231.2 231.2 0 0 1 1017.99 1069.88L1036.49 1073.22A212.4 212.4 0 0 0 1036.38 1073.82ZM1017.99 1069.88A231.2 231.2 0 0 1 1018.11 1069.19L1036.6 1072.59A212.4 212.4 0 0 0 1036.49 1073.22Z" fill="#e8262a"/>
<path d="M1018.11 1069.19A231.2 231.2 0 0 1 1018.83 1065.47L1037.26 1069.18A212.4 212.4 0 0 0 1036.6 1072.59Z" fill="#d6d6d6"/>
<path d="M1019.77 1061A231.2 231.2 0 0 1 1020.69 1057.02L1038.97 1061.41A212.4 212.4 0 0 0 1038.13 1065.07Z" fill="#000000"/>
<path d="M1021.47 1053.86A231.2 231.2 0 0 1 1022.04 1051.69L1040.21 1056.51A212.4 212.4 0 0 0 1039.69 1058.51Z" fill="#646464"/>
<path d="M1022.95 1048.34A231.2 231.2 0 0 1 1023.14 1047.66L1041.23 1052.81A212.4 212.4 0 0 0 1041.05 1053.44Z" fill="#c8c8c8"/>
<path d="M1015.67 1085.89A231.2 231.2 0 0 1 1023.34 1046.97L1041.41 1052.17A212.4 212.4 0 0 0 1034.36 1087.93Z" fill="none" stroke="#000" stroke-width="1" stroke-linejoin="miter"/>
<path d="M1005.71 1085.86A241.1 241.1 0 0 1 1014.12 1043.22" fill="none" stroke="#6cc04a" stroke-width="1.25"/>
<text transform="translate(989.35 1062.33) rotate(11.16)" y="3.0" text-anchor="end" font-size="16" fill="#141414">16</text>
<path d="M1024.47 1043.17A231.2 231.2 0 0 1 1037.93 1009.18L1054.81 1017.46A212.4 212.4 0 0 0 1042.45 1048.69Z" fill="#fff"/>
<path d="M1024.91 1041.75A231.2 231.2 0 0 1 1025.35 1040.38L1043.25 1046.12A212.4 212.4 0 0 0 1042.85 1047.38ZM1029.1 1029.61A231.2 231.2 0 0 1 1030.12 1026.96L1047.63 1033.79A212.4 212.4 0 0 0 1046.7 1036.23ZM1034.37 1016.77A231.2 231.2 0 0 1 1034.67 1016.11L1051.81 1023.83A212.4 212.4 0 0 0 1051.54 1024.43Z" fill="#969696"/>
<path d="M1025.94 1038.58A231.2 231.2 0 0 1 1026.7 1036.31L1044.49 1042.39A212.4 212.4 0 0 0 1043.79 1044.47ZM1032.16 1021.9A231.2 231.2 0 0 1 1033.47 1018.83L1050.71 1026.33A212.4 212.4 0 0 0 1049.51 1029.15ZM1033.59 1018.54A231.2 231.2 0 0 1 1034.1 1017.39L1051.29 1025A212.4 212.4 0 0 0 1050.82 1026.06ZM1035.21 1014.92A231.2 231.2 0 0 1 1035.93 1013.36L1052.97 1021.3A212.4 212.4 0 0 0 1052.31 1022.73Z" fill="#646464"/>
<path d="M1027.69 1033.46A231.2 231.2 0 0 1 1028.06 1032.44L1045.74 1038.83A212.4 212.4 0 0 0 1045.4 1039.77ZM1028.06 1032.44A231.2 231.2 0 0 1 1028.41 1031.47L1046.06 1037.94A212.4 212.4 0 0 0 1045.74 1038.83Z" fill="#e8262a"/>
<path d="M1030.17 1026.83A231.2 231.2 0 0 1 1030.58 1025.78L1048.05 1032.71A212.4 212.4 0 0 0 1047.68 1033.68ZM1031.25 1024.11A231.2 231.2 0 0 1 1031.68 1023.07L1049.06 1030.22A212.4 212.4 0 0 0 1048.67 1031.17ZM1036.68 1011.77A231.2 231.2 0 0 1 1036.77 1011.57L1053.75 1019.66A212.4 212.4 0 0 0 1053.66 1019.84Z" fill="#c8c8c8"/>
<path d="M1024.47 1043.17A231.2 231.2 0 0 1 1037.93 1009.18L1054.81 1017.46A212.4 212.4 0 0 0 1042.45 1048.69Z" fill="none" stroke="#000" stroke-width="1" stroke-linejoin="miter"/>
<path d="M1014.7 1041.28A241.1 241.1 0 0 1 1029.51 1003.87" fill="none" stroke="#8b2323" stroke-width="1.25"/>
<text transform="translate(1003.25 1018.44) rotate(21.59)" y="2.4" text-anchor="end" font-size="16" fill="#141414">17</text>
<path d="M1039.7 1005.64A231.2 231.2 0 0 1 1058.14 975.54L1073.38 986.55A212.4 212.4 0 0 0 1056.44 1014.21Z" fill="#fff"/>
<path d="M1040.3 1004.47A231.2 231.2 0 0 1 1041.19 1002.79L1057.8 1011.59A212.4 212.4 0 0 0 1056.99 1013.13ZM1052.51 983.68A231.2 231.2 0 0 1 1053.21 982.63L1068.85 993.07A212.4 212.4 0 0 0 1068.21 994.04Z" fill="#969696"/>
<path d="M1041.48 1002.23A231.2 231.2 0 0 1 1042 1001.27L1058.55 1010.19A212.4 212.4 0 0 0 1058.07 1011.07ZM1055.69 979A231.2 231.2 0 0 1 1056.83 977.37L1072.17 988.24A212.4 212.4 0 0 0 1071.12 989.73Z" fill="#c8c8c8"/>
<path d="M1042.97 999.48A231.2 231.2 0 0 1 1043.54 998.45L1059.96 1007.61A212.4 212.4 0 0 0 1059.44 1008.55ZM1043.54 998.45A231.2 231.2 0 0 1 1044.16 997.35L1060.53 1006.59A212.4 212.4 0 0 0 1059.96 1007.61Z" fill="#e8262a"/>
<path d="M1045.1 995.7A231.2 231.2 0 0 1 1046.86 992.69L1063.02 1002.31A212.4 212.4 0 0 0 1061.4 1005.07ZM1053.87 981.65A231.2 231.2 0 0 1 1055.2 979.71L1070.67 990.38A212.4 212.4 0 0 0 1069.45 992.17Z" fill="#000000"/>
<path d="M1047.91 990.95A231.2 231.2 0 0 1 1049.41 988.52L1065.35 998.48A212.4 212.4 0 0 0 1063.98 1000.71ZM1050.54 986.72A231.2 231.2 0 0 1 1051.92 984.59L1067.66 994.87A212.4 212.4 0 0 0 1066.4 996.83Z" fill="#646464"/>
<path d="M1039.7 1005.64A231.2 231.2 0 0 1 1058.14 975.54L1073.38 986.55A212.4 212.4 0 0 0 1056.44 1014.21Z" fill="none" stroke="#000" stroke-width="1" stroke-linejoin="miter"/>
<path d="M1030.41 1002.06A241.1 241.1 0 0 1 1050.74 968.89" fill="none" stroke="#2a8080" stroke-width="1.25"/>
<text transform="translate(1022.64 979.63) rotate(31.49)" y="2.4" text-anchor="end" font-size="16" fill="#141414">18</text>
<path d="M1060.49 972.35A231.2 231.2 0 0 1 1077.06 952.63L1090.75 965.51A212.4 212.4 0 0 0 1075.53 983.63Z" fill="#fff"/>
<path d="M1062.31 969.96A231.2 231.2 0 0 1 1064.18 967.55L1078.93 979.22A212.4 212.4 0 0 0 1077.2 981.43ZM1064.21 967.52A231.2 231.2 0 0 1 1064.83 966.73L1079.52 978.46A212.4 212.4 0 0 0 1078.95 979.18ZM1070.17 960.29A231.2 231.2 0 0 1 1070.97 959.37L1085.16 971.7A212.4 212.4 0 0 0 1084.43 972.54ZM1071.08 959.23A231.2 231.2 0 0 1 1072.44 957.7L1086.51 970.16A212.4 212.4 0 0 0 1085.27 971.58ZM1072.96 957.11A231.2 231.2 0 0 1 1073.77 956.2L1087.74 968.79A212.4 212.4 0 0 0 1086.99 969.62ZM1074.77 955.1A231.2 231.2 0 0 1 1075.42 954.4L1089.25 967.13A212.4 212.4 0 0 0 1088.65 967.78ZM1076.22 953.53A231.2 231.2 0 0 1 1077.06 952.63L1090.75 965.51A212.4 212.4 0 0 0 1089.98 966.34Z" fill="#c8c8c8"/>
<path d="M1065.84 965.48A231.2 231.2 0 0 1 1067.06 963.99L1081.57 975.94A212.4 212.4 0 0 0 1080.45 977.31ZM1068.23 962.58A231.2 231.2 0 0 1 1069.29 961.32L1083.62 973.49A212.4 212.4 0 0 0 1082.64 974.65Z" fill="#d6d6d6"/>
<path d="M1067.06 963.99A231.2 231.2 0 0 1 1067.64 963.29L1082.1 975.3A212.4 212.4 0 0 0 1081.57 975.94ZM1067.64 963.29A231.2 231.2 0 0 1 1068.23 962.58L1082.64 974.65A212.4 212.4 0 0 0 1082.1 975.3Z" fill="#e8262a"/>
<path d="M1060.49 972.35A231.2 231.2 0 0 1 1077.06 952.63L1090.75 965.51A212.4 212.4 0 0 0 1075.53 983.63Z" fill="none" stroke="#000" stroke-width="1" stroke-linejoin="miter"/>
<path d="M1051.94 967.26A241.1 241.1 0 0 1 1070.57 945.09" fill="none" stroke="#ee5c42" stroke-width="1.25"/>
<text transform="translate(1044.56 949.2) rotate(40.04)" y="2.4" text-anchor="end" font-size="16" fill="#141414">19</text>
<path d="M1079.79 949.77A231.2 231.2 0 0 1 1100.74 930.73L1112.51 945.39A212.4 212.4 0 0 0 1093.27 962.88Z" fill="#fff"/>
<path d="M1081.4 948.14A231.2 231.2 0 0 1 1082.7 946.83L1095.94 960.18A212.4 212.4 0 0 0 1094.74 961.38ZM1083.63 945.92A231.2 231.2 0 0 1 1085.5 944.1L1098.51 957.68A212.4 212.4 0 0 0 1096.79 959.34ZM1092.01 938.1A231.2 231.2 0 0 1 1093.39 936.88L1105.76 951.04A212.4 212.4 0 0 0 1104.49 952.16ZM1096.15 934.51A231.2 231.2 0 0 1 1097.95 933.01L1109.94 947.48A212.4 212.4 0 0 0 1108.3 948.86Z" fill="#646464"/>
<path d="M1086.61 943.05A231.2 231.2 0 0 1 1086.94 942.74L1099.83 956.42A212.4 212.4 0 0 0 1099.53 956.71ZM1090.17 939.75A231.2 231.2 0 0 1 1090.94 939.06L1103.51 953.04A212.4 212.4 0 0 0 1102.8 953.68ZM1093.53 936.76A231.2 231.2 0 0 1 1094.99 935.5L1107.23 949.77A212.4 212.4 0 0 0 1105.89 950.93Z" fill="#c8c8c8"/>
<path d="M1088.02 941.73A231.2 231.2 0 0 1 1088.64 941.15L1101.4 954.96A212.4 212.4 0 0 0 1100.82 955.49ZM1088.64 941.15A231.2 231.2 0 0 1 1089.27 940.57L1101.98 954.43A212.4 212.4 0 0 0 1101.4 954.96Z" fill="#e8262a"/>
<path d="M1098.46 932.58A231.2 231.2 0 0 1 1099.12 932.04L1111.03 946.59A212.4 212.4 0 0 0 1110.42 947.09Z" fill="#969696"/>
<path d="M1079.79 949.77A231.2 231.2 0 0 1 1100.74 930.73L1112.51 945.39A212.4 212.4 0 0 0 1093.27 962.88Z" fill="none" stroke="#000" stroke-width="1" stroke-linejoin="miter"/>
<path d="M1071.96 943.62A241.1 241.1 0 0 1 1095.36 922.35" fill="none" stroke="#63b8ff" stroke-width="1.25"/>
<text transform="translate(1067.92 924.91) rotate(47.73)" y="2.4" text-anchor="end" font-size="16" fill="#141414">20</text>
<path d="M1103.85 928.28A231.2 231.2 0 0 1 1120.61 916.43L1130.77 932.25A212.4 212.4 0 0 0 1115.37 943.13Z" fill="#fff"/>
<path d="M1103.85 928.28A231.2 231.2 0 0 1 1104.79 927.55L1116.24 942.46A212.4 212.4 0 0 0 1115.37 943.13ZM1106.15 926.51A231.2 231.2 0 0 1 1107.55 925.46L1118.77 940.55A212.4 212.4 0 0 0 1117.48 941.51Z" fill="#d6d6d6"/>
<path d="M1104.79 927.55A231.2 231.2 0 0 1 1106.15 926.51L1117.48 941.51A212.4 212.4 0 0 0 1116.24 942.46Z" fill="#3b7bc4"/>
<path d="M1107.55 925.46A231.2 231.2 0 0 1 1108.03 925.11L1119.21 940.22A212.4 212.4 0 0 0 1118.77 940.55ZM1108.03 925.11A231.2 231.2 0 0 1 1108.48 924.78L1119.62 939.92A212.4 212.4 0 0 0 1119.21 940.22Z" fill="#e8262a"/>
<path d="M1109.44 924.07A231.2 231.2 0 0 1 1112.08 922.18L1122.93 937.54A212.4 212.4 0 0 0 1120.51 939.27Z" fill="#000000"/>
<path d="M1113.05 921.5A231.2 231.2 0 0 1 1114.7 920.35L1125.34 935.86A212.4 212.4 0 0 0 1123.82 936.91Z" fill="#646464"/>
<path d="M1116.22 919.32A231.2 231.2 0 0 1 1116.93 918.85L1127.38 934.47A212.4 212.4 0 0 0 1126.73 934.91ZM1117.6 918.4A231.2 231.2 0 0 1 1118.64 917.72L1128.95 933.43A212.4 212.4 0 0 0 1128 934.06Z" fill="#969696"/>
<path d="M1103.85 928.28A231.2 231.2 0 0 1 1120.61 916.43L1130.77 932.25A212.4 212.4 0 0 0 1115.37 943.13Z" fill="none" stroke="#000" stroke-width="1" stroke-linejoin="miter"/>
<path d="M1096.95 921.1A241.1 241.1 0 0 1 1116.15 907.53" fill="none" stroke="#66cdaa" stroke-width="1.25"/>
<text transform="translate(1091.99 905.59) rotate(54.76)" y="2.4" text-anchor="end" font-size="16" fill="#141414">21</text>
<path d="M1123.96 914.32A231.2 231.2 0 0 1 1143.51 903.51L1151.8 920.39A212.4 212.4 0 0 0 1133.85 930.32Z" fill="#fff"/>
<path d="M1123.96 914.32A231.2 231.2 0 0 1 1125.37 913.46L1135.14 929.52A212.4 212.4 0 0 0 1133.85 930.32ZM1127.05 912.45A231.2 231.2 0 0 1 1128.51 911.58L1138.03 927.8A212.4 212.4 0 0 0 1136.68 928.59Z" fill="#d6d6d6"/>
<path d="M1125.37 913.46A231.2 231.2 0 0 1 1127.05 912.45L1136.68 928.59A212.4 212.4 0 0 0 1135.14 929.52Z" fill="#3b7bc4"/>
<path d="M1128.51 911.58A231.2 231.2 0 0 1 1129.45 911.03L1138.89 927.29A212.4 212.4 0 0 0 1138.03 927.8ZM1129.45 911.03A231.2 231.2 0 0 1 1130.66 910.34L1140 926.65A212.4 212.4 0 0 0 1138.89 927.29Z" fill="#e8262a"/>
<path d="M1132.29 909.41A231.2 231.2 0 0 1 1132.79 909.14L1141.95 925.55A212.4 212.4 0 0 0 1141.5 925.81Z" fill="#c8c8c8"/>
<path d="M1133.7 908.63A231.2 231.2 0 0 1 1135.11 907.85L1144.09 924.37A212.4 212.4 0 0 0 1142.79 925.08ZM1136.11 907.32A231.2 231.2 0 0 1 1138.19 906.21L1146.91 922.87A212.4 212.4 0 0 0 1145 923.88ZM1139.5 905.53A231.2 231.2 0 0 1 1140.74 904.9L1149.26 921.66A212.4 212.4 0 0 0 1148.12 922.24ZM1142.37 904.07A231.2 231.2 0 0 1 1142.76 903.88L1151.12 920.72A212.4 212.4 0 0 0 1150.76 920.9Z" fill="#969696"/>
<path d="M1123.96 914.32A231.2 231.2 0 0 1 1143.51 903.51L1151.8 920.39A212.4 212.4 0 0 0 1133.85 930.32Z" fill="none" stroke="#000" stroke-width="1" stroke-linejoin="miter"/>
<path d="M1117.86 906.46A241.1 241.1 0 0 1 1140.08 894.17" fill="none" stroke="#9b4fd0" stroke-width="1.25"/>
<text transform="translate(1114.38 890.92) rotate(61.05)" y="3.0" text-anchor="end" font-size="16" fill="#141414">22</text>
<path d="M1147.07 901.8A231.2 231.2 0 0 1 1212.54 882.16L1215.22 900.77A212.4 212.4 0 0 0 1155.08 918.81Z" fill="#fff"/>
<path d="M1148.79 901A231.2 231.2 0 0 1 1149.48 900.68L1157.28 917.79A212.4 212.4 0 0 0 1156.66 918.07ZM1150.89 900.05A231.2 231.2 0 0 1 1153.96 898.69L1161.4 915.96A212.4 212.4 0 0 0 1158.58 917.2ZM1154.85 898.31A231.2 231.2 0 0 1 1155.91 897.86L1163.2 915.19A212.4 212.4 0 0 0 1162.22 915.61ZM1173.58 891.27A231.2 231.2 0 0 1 1174.93 890.83L1180.66 908.74A212.4 212.4 0 0 0 1179.43 909.14ZM1176.61 890.3A231.2 231.2 0 0 1 1177.5 890.03L1183.03 908A212.4 212.4 0 0 0 1182.21 908.25ZM1189.71 886.63A231.2 231.2 0 0 1 1190.18 886.51L1194.68 904.77A212.4 212.4 0 0 0 1194.25 904.88Z" fill="#969696"/>
<path d="M1157.13 897.35A231.2 231.2 0 0 1 1158.93 896.62L1165.97 914.05A212.4 212.4 0 0 0 1164.32 914.73ZM1159.84 896.26A231.2 231.2 0 0 1 1162.34 895.27L1169.11 912.81A212.4 212.4 0 0 0 1166.8 913.72ZM1178.38 889.76A231.2 231.2 0 0 1 1182.03 888.68L1187.19 906.76A212.4 212.4 0 0 0 1183.84 907.75ZM1182.71 888.49A231.2 231.2 0 0 1 1185.09 887.83L1190.01 905.98A212.4 212.4 0 0 0 1187.81 906.58ZM1197.59 884.82A231.2 231.2 0 0 1 1200.97 884.13L1204.59 902.58A212.4 212.4 0 0 0 1201.49 903.21ZM1206.79 883.06A231.2 231.2 0 0 1 1208.97 882.7L1211.94 901.27A212.4 212.4 0 0 0 1209.94 901.6Z" fill="#000000"/>
<path d="M1164.33 894.52A231.2 231.2 0 0 1 1165.98 893.9L1172.45 911.56A212.4 212.4 0 0 0 1170.93 912.12ZM1185.82 887.64A231.2 231.2 0 0 1 1187.87 887.1L1192.56 905.3A212.4 212.4 0 0 0 1190.67 905.8ZM1192.33 886A231.2 231.2 0 0 1 1195.69 885.23L1199.74 903.59A212.4 212.4 0 0 0 1196.65 904.29ZM1205.01 883.37A231.2 231.2 0 0 1 1206.01 883.2L1209.22 901.72A212.4 212.4 0 0 0 1208.3 901.88Z" fill="#646464"/>
<path d="M1167.4 893.39A231.2 231.2 0 0 1 1169.48 892.66L1175.66 910.41A212.4 212.4 0 0 0 1173.75 911.09ZM1201.7 883.99A231.2 231.2 0 0 1 1203.09 883.72L1206.54 902.2A212.4 212.4 0 0 0 1205.27 902.45Z" fill="#c8c8c8"/>
<path d="M1170.86 892.18A231.2 231.2 0 0 1 1171.9 891.83L1177.89 909.65A212.4 212.4 0 0 0 1176.93 909.97ZM1171.9 891.83A231.2 231.2 0 0 1 1173.12 891.42L1179 909.28A212.4 212.4 0 0 0 1177.89 909.65Z" fill="#e8262a"/>
<path d="M1147.07 901.8A231.2 231.2 0 0 1 1212.54 882.16L1215.22 900.77A212.4 212.4 0 0 0 1155.08 918.81Z" fill="none" stroke="#000" stroke-width="1" stroke-linejoin="miter"/>
<path d="M1141.91 893.29A241.1 241.1 0 0 1 1212.17 872.22" fill="none" stroke="#ee6a50" stroke-width="1.25"/>
<text transform="translate(1163.84 870.1) rotate(73.3)" y="3.0" text-anchor="end" font-size="16" fill="#141414">X</text>
<path d="M1216.46 881.63A231.2 231.2 0 0 1 1241.54 879.83L1241.87 898.63A212.4 212.4 0 0 0 1218.82 900.28Z" fill="#fff"/>
<path d="M1217.51 881.5A231.2 231.2 0 0 1 1217.72 881.47L1219.98 900.14A212.4 212.4 0 0 0 1219.79 900.16ZM1222.82 880.92A231.2 231.2 0 0 1 1224.8 880.73L1226.48 899.45A212.4 212.4 0 0 0 1224.66 899.62ZM1225.77 880.64A231.2 231.2 0 0 1 1227.5 880.5L1228.97 899.24A212.4 212.4 0 0 0 1227.38 899.37Z" fill="#969696"/>
<path d="M1220.8 881.12A231.2 231.2 0 0 1 1220.88 881.11L1222.88 899.81A212.4 212.4 0 0 0 1222.8 899.82ZM1220.88 881.11A231.2 231.2 0 0 1 1220.96 881.11L1222.96 899.8A212.4 212.4 0 0 0 1222.88 899.81Z" fill="#e8262a"/>
<path d="M1228.6 880.42A231.2 231.2 0 0 1 1241.54 879.83L1241.87 898.63A212.4 212.4 0 0 0 1229.98 899.17Z" fill="#d6d6d6"/>
<path d="M1216.46 881.63A231.2 231.2 0 0 1 1241.54 879.83L1241.87 898.63A212.4 212.4 0 0 0 1218.82 900.28Z" fill="none" stroke="#000" stroke-width="1" stroke-linejoin="miter"/>
<path d="M1214.17 871.94A241.1 241.1 0 0 1 1242.43 869.92" fill="none" stroke="#cd853f" stroke-width="1.25"/>
<text transform="translate(1218.13 860.14) rotate(85.9)" y="3.0" text-anchor="end" font-size="16" fill="#141414">Y</text>
<line x1="1256.08" y1="908.08" x2="1255.03" y2="928.25" stroke="#141414" stroke-width="1.1"/>
<text transform="translate(1254.84 931.84) rotate(-87.01)" y="3.0" text-anchor="end" font-size="13.8" fill="#141414">FCN3</text>
<line x1="1447.98" y1="1128.05" x2="1427.85" y2="1126.36" stroke="#141414" stroke-width="1.1"/>
<text transform="translate(1424.27 1126.05) rotate(4.81)" y="3.0" text-anchor="end" font-size="13.8" fill="#141414">SFRP2</text>
<line x1="1226.69" y1="1313.33" x2="1228.56" y2="1293.21" stroke="#141414" stroke-width="1.1"/>
<text transform="translate(1228.89 1289.63) rotate(-84.69)" y="3.0" text-anchor="start" font-size="13.8" fill="#141414">ASPN</text>
<line x1="1117.72" y1="953.01" x2="1130.42" y2="968.71" stroke="#141414" stroke-width="1.1"/>
<text transform="translate(1132.69 971.51) rotate(51.04)" y="3.0" text-anchor="start" font-size="13.8" fill="#141414">SLCO4A1</text>
<text x="901.3" y="831.9" font-size="29.6" font-weight="bold" fill="#141414">D</text>
</g>
</svg>
</body></html>
